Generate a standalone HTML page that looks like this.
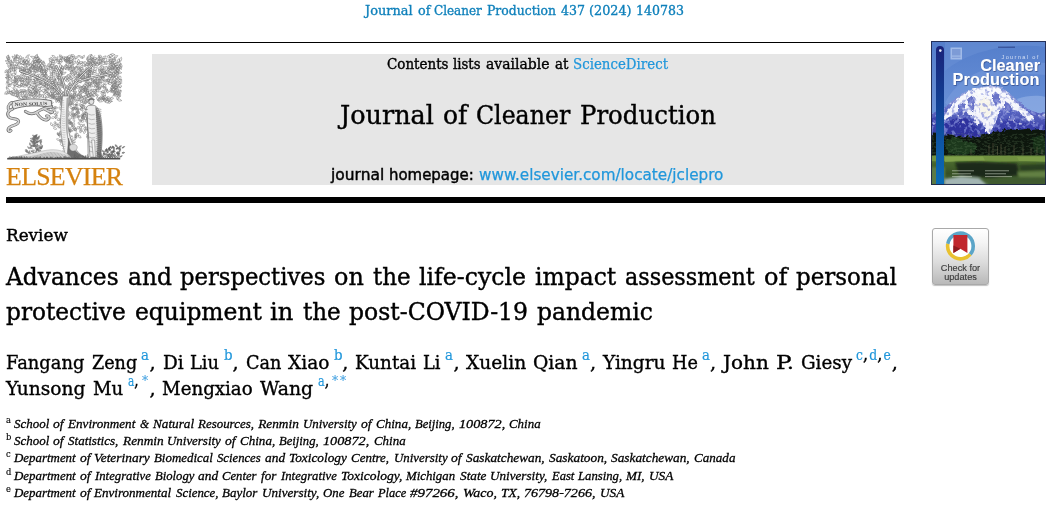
<!DOCTYPE html>
<html lang="en"><head><meta charset="utf-8"><title>Journal of Cleaner Production</title>
<style>
html,body{margin:0;padding:0;background:#fff;}
body{width:1059px;height:507px;position:relative;overflow:hidden;}
.t,.g{position:absolute;white-space:pre;margin:0;padding:0;transform-origin:0 50%;}
.r{position:absolute;}
</style></head>
<body>
<div class="r" style="left:6px;top:42px;width:898px;height:1px;background:#000"></div>
<div class="r" style="left:152px;top:54px;width:752px;height:131px;background:#e6e6e6"></div>
<div class="r" style="left:6px;top:197px;width:1039px;height:6px;background:#000"></div>
<!-- Check for updates badge -->
<div class="r" style="left:932px;top:228px;width:57px;height:57px;box-sizing:border-box;border:1px solid #a9a9a9;border-radius:3px;background:linear-gradient(#ffffff 0%,#f4f4f4 25%,#dcdcdc 60%,#b9b9b9 100%);box-shadow:0 1px 1px rgba(0,0,0,.25);"></div>
<svg class="r" style="left:932px;top:228px" width="57" height="57" viewBox="0 0 57 57">
  <circle cx="28.4" cy="18.1" r="12" fill="#fff"/>
  <g fill="none" stroke-width="3.6" transform="translate(28.4 18.1)">
    <path d="M-12.6 -2.2 A12.8 12.8 0 1 1 9.8 8.2" stroke="#5ba5c8"/>
    <path d="M9.8 8.2 A12.8 12.8 0 0 1 -12.6 -2.2" stroke="#e9c12f"/>
  </g>
  <path d="M21.4 6.9 h14 v18 l-7 -4.2 l-7 4.2 z" fill="#c1272d"/>
  <path d="M21.4 17.5 l7 3.2 l-7 4.2 z" fill="#8e1b1f"/>
</svg>
<div class="g" style="left:932px;top:264.3px;width:57px;text-align:center;font:9.2px/8.3px 'Liberation Sans','DejaVu Sans',sans-serif;color:#3c3c3c;white-space:normal;-webkit-text-stroke:0.15px #3c3c3c;">Check for<br>updates</div>
<!-- Journal cover thumbnail -->
<svg class="r" style="left:931px;top:41px" width="115" height="144" viewBox="0 0 115 144">
  <defs>
    <linearGradient id="sky" x1="0" y1="0" x2="0" y2="1">
      <stop offset="0" stop-color="#547ecb"/><stop offset="0.5" stop-color="#6a91d7"/><stop offset="1" stop-color="#8eaee5"/>
    </linearGradient>
    <linearGradient id="strip" x1="0" y1="0" x2="0" y2="1">
      <stop offset="0" stop-color="#1a237a"/><stop offset="0.4" stop-color="#123f93"/><stop offset="1" stop-color="#0a6db6"/>
    </linearGradient>
    <linearGradient id="mtn" x1="0" y1="0" x2="0" y2="1">
      <stop offset="0" stop-color="#a9b6e4"/><stop offset="0.45" stop-color="#5b66c2"/><stop offset="1" stop-color="#2a2f9a"/>
    </linearGradient>
    <linearGradient id="water" x1="0" y1="0" x2="0" y2="1">
      <stop offset="0" stop-color="#688b3c"/><stop offset="0.25" stop-color="#48662d"/><stop offset="0.6" stop-color="#375025"/><stop offset="1" stop-color="#4a663a"/>
    </linearGradient>
    <filter id="rough" x="-5%" y="-5%" width="110%" height="110%">
      <feTurbulence type="fractalNoise" baseFrequency="0.22" numOctaves="3" seed="7" result="n"/>
      <feDisplacementMap in="SourceGraphic" in2="n" scale="5" xChannelSelector="R" yChannelSelector="G"/>
    </filter>
    <filter id="rough2" x="-5%" y="-5%" width="110%" height="110%">
      <feTurbulence type="fractalNoise" baseFrequency="0.3" numOctaves="2" seed="21" result="n"/>
      <feDisplacementMap in="SourceGraphic" in2="n" scale="4" xChannelSelector="R" yChannelSelector="G"/>
    </filter>
    <filter id="speckW" x="0" y="0" width="100%" height="100%">
      <feTurbulence type="fractalNoise" baseFrequency="0.26" numOctaves="2" seed="3"/>
      <feColorMatrix type="matrix" values="0 0 0 0 1  0 0 0 0 1  0 0 0 0 1  6 0 0 0 -3.5"/>
      <feComposite in2="SourceGraphic" operator="in"/>
    </filter>
    <filter id="speckB" x="0" y="0" width="100%" height="100%">
      <feTurbulence type="fractalNoise" baseFrequency="0.24" numOctaves="2" seed="12"/>
      <feColorMatrix type="matrix" values="0 0 0 0 0.24  0 0 0 0 0.28  0 0 0 0 0.70  0 6 0 0 -3.1"/>
      <feComposite in2="SourceGraphic" operator="in"/>
    </filter>
    <filter id="speckG" x="0" y="0" width="100%" height="100%">
      <feTurbulence type="fractalNoise" baseFrequency="0.3 0.6" numOctaves="2" seed="5"/>
      <feColorMatrix type="matrix" values="0 0 0 0 0.16  0 0 0 0 0.30  0 0 0 0 0.14  0 0 7 0 -3.4"/>
      <feComposite in2="SourceGraphic" operator="in"/>
    </filter>
    <filter id="tsh" x="-10%" y="-20%" width="120%" height="150%"><feDropShadow dx="0.6" dy="0.8" stdDeviation="0.7" flood-color="#16285f" flood-opacity="0.6"/></filter>
    <filter id="blur0"><feGaussianBlur stdDeviation="0.35"/></filter>
    <filter id="blur1"><feGaussianBlur stdDeviation="0.7"/></filter>
    <filter id="blur2"><feGaussianBlur stdDeviation="1.6"/></filter>
    <filter id="blur3" x="-10%" y="-10%" width="120%" height="120%"><feGaussianBlur stdDeviation="1.3"/></filter>
    <clipPath id="cv"><rect x="0" y="0" width="115" height="144"/></clipPath>
    <clipPath id="mclip"><path d="M-4 76 L4 71 L13 67 L19 62 L24 58 L30 54 L34 51 L40 49 L45 47 L50 46 L56 45 L62 44.5 L68 45.5 L72 48 L77 51 L82 56 L88 61 L94 66 L101 70 L108 72 L119 73 L119 100 L-4 100 Z"/></clipPath>
  </defs>
  <g clip-path="url(#cv)">
    <rect width="115" height="144" fill="url(#sky)"/>
    <!-- decorative lighter swooshes in sky -->
    <path d="M14 30 C40 8 80 2 115 6 L115 0 L14 0 Z" fill="#6a90d6" opacity="0.55"/>
    <path d="M14 62 C30 30 70 18 115 22 L115 34 C75 30 40 42 24 70 Z" fill="#86a6e2" opacity="0.35"/>
    <path d="M86 58 C96 54 108 54 115 56 L115 74 L95 74 Z" fill="#a8c0ee" opacity="0.45"/>
    <!-- mountain -->
    <g filter="url(#rough2)">
      <path d="M-4 76 L4 71 L13 67 L19 62 L24 58 L30 54 L34 51 L40 49 L45 47 L50 46 L56 45 L62 44.5 L68 45.5 L72 48 L77 51 L82 56 L88 61 L94 66 L101 70 L108 72 L119 73 L119 100 L-4 100 Z" fill="url(#mtn)"/>
      <path d="M24 60 L30 55 L36 51 L44 48 L52 46.5 L60 45.5 L68 47 L74 51 L80 57 L86 62 L92 67 L98 72 L104 78 L98 80 L92 74 L86 70 L80 68 L76 72 L72 66 L68 70 L66 78 L62 86 L58 94 L54 88 L50 80 L46 84 L42 76 L36 72 L30 70 L24 72 L18 76 L12 80 L14 72 L20 66 Z" fill="#ffffff" opacity="0.93"/>
      <path d="M46 62 L54 56 L60 60 L62 70 L58 78 L52 74 L48 68 Z" fill="#f6f3ea" opacity="0.95"/>
      <path d="M36 58 L42 54 L44 62 L42 72 L38 66 Z M62 50 L68 54 L70 62 L66 66 L62 60 Z M74 60 L80 64 L84 72 L78 76 L74 68 Z M28 64 L34 62 L34 70 L28 72 Z" fill="#4d5bbd" opacity="0.85"/>
      <path d="M14 82 L22 78 L32 76 L40 80 L46 88 L52 96 L52 100 L14 100 Z" fill="#2c2f9c" opacity="0.92"/>
      <path d="M64 88 L72 80 L82 78 L92 82 L104 84 L119 86 L119 100 L62 100 Z" fill="#363aa6" opacity="0.8"/>
      <path d="M0 78 L8 74 L12 82 L10 92 L0 94 Z" fill="#3a3fa8" opacity="0.85"/>
    </g>
    <g clip-path="url(#mclip)">
      <rect x="0" y="44" width="115" height="40" fill="#fff" filter="url(#speckW)" opacity="0.7"/>
      <rect x="0" y="44" width="115" height="56" fill="#fff" filter="url(#speckB)" opacity="0.7"/>
    </g>
    <!-- forest -->
    <g filter="url(#rough)">
      <path d="M-4 94 L4 92.5 L12 95 L20 93.5 L28 96 L36 95 L44 97 L50 94.5 L56 93 L62 91 L70 90 L78 88.5 L86 89 L94 88 L102 89 L110 88 L119 89 L119 118 L-4 118 Z" fill="#0b170c"/>
      <path d="M14 99 L22 96 L30 99 L40 101 L46 105 L44 112 L30 114 L16 112 Z" fill="#1d3b1f" opacity="0.9"/>
      <path d="M100 98 L110 94 L118 98 L118 112 L104 112 Z" fill="#18331a" opacity="0.8"/>
    </g>
    <rect x="0" y="92" width="115" height="24" fill="#fff" filter="url(#speckG)" opacity="0.2"/>
    <g stroke="#7a7458" stroke-width="0.6" opacity="0.75">
      <path d="M58 104v10M62 102v12M66.5 105v9M70 103v11M74 106v8M83 104v10M40 108v6M92 106v8M100 107v7M106 106v8M111 108v6"/>
    </g>
    <!-- meadow and water -->
    <rect x="0" y="115" width="115" height="29" fill="url(#water)"/>
    <path d="M0 114.5 L115 114.5 L115 121 C90 119 70 122 50 120 C30 119 15 121 0 120 Z" fill="#6f9140" filter="url(#blur1)"/>
    <path d="M14 116 L52 115.5 L54 119.5 L14 121 Z" fill="#88a850" opacity="0.7"/>
    <path d="M86 116 L115 116 L115 120 L88 120 Z" fill="#7f9f48" opacity="0.7"/>
    <g filter="url(#blur3)">
      <path d="M24 121.5 L50 121 L86 122.5 L88 134 L60 137 L28 134 Z" fill="#172414" opacity="0.9"/>
      <path d="M88 124 L115 123 L115 129 L90 130 Z" fill="#263a1c" opacity="0.85"/>
      <path d="M86 131 L115 130 L115 136 L88 136 Z" fill="#6d8c4a" opacity="0.8"/>
      <path d="M14 138 L30 135.5 L48 137 L56 144 L14 144 Z" fill="#c3d2de" opacity="0.75"/>
      <path d="M58 138 L115 136 L115 144 L58 144 Z" fill="#3f5b30" opacity="0.85"/>
      <path d="M0 126 L14 126 L14 144 L0 144 Z" fill="#5b7a44"/>
    </g>
    <g fill="#e8efe0" opacity="0.45" filter="url(#blur0)">
      <rect x="21" y="129.2" width="22" height="1.1"/><rect x="21" y="132.2" width="19" height="1.1"/><rect x="21" y="135" width="20" height="1.1"/>
      <rect x="54" y="129.2" width="24" height="1.1"/><rect x="54" y="132.2" width="21" height="1.1"/><rect x="54" y="135" width="27" height="1.1"/>
    </g>
    <!-- left strip -->
    <path d="M5 9 A4 4 0 0 1 13 9 L13 144 L5 144 Z" fill="url(#strip)"/>
    <circle cx="9.3" cy="9.6" r="1.3" fill="#e9eefb"/>
    <!-- mini publisher mark -->
    <rect x="19.5" y="6.5" width="11.5" height="12" fill="#a9c0ea" opacity="0.9"/>
    <rect x="21" y="8" width="8.5" height="6.5" fill="#7d9bd6"/>
    <rect x="21" y="15.6" width="8.5" height="1.4" fill="#86a2da"/>
    <rect x="67" y="5.6" width="17" height="1.2" fill="#2b3f86" opacity="0.8"/>
    <!-- cover title -->
    <g font-family="'Liberation Sans','DejaVu Sans',sans-serif" text-anchor="end">
      <text x="108.6" y="17.6" font-size="5.6" letter-spacing="1.35" fill="#dfe7f8" opacity="0.9">Journal of</text>
      <g font-weight="bold" font-size="16.3" fill="#ffffff" filter="url(#tsh)">
        <text x="109" y="30.2">Cleaner</text><text x="108.6" y="44.2" letter-spacing="0.12">Production</text>
      </g>
    </g>
  </g>
  <rect x="0.5" y="0.5" width="114" height="143" fill="none" stroke="#1b2246" stroke-width="1" opacity="0.85"/>
</svg>
<!-- Elsevier tree mark -->
<svg class="r" style="left:0px;top:50px" width="130" height="115" viewBox="0 0 130 115">
<path d="M8.5 12.3Q10.6 11.1 9.3 8.7Q7.0 10.2 8.5 12.3M7.5 10.2Q10.0 8.6 8.6 5.5Q6.0 7.6 7.5 10.2M14.7 8.8Q14.8 6.3 12.0 6.1Q12.2 8.9 14.7 8.8M14.7 8.8Q17.3 8.1 17.4 5.1Q14.5 6.2 14.7 8.8M21.4 9.0Q18.7 8.7 18.3 11.7Q21.3 11.8 21.4 9.0M21.4 9.0Q23.0 6.5 20.0 5.5Q18.6 8.4 21.4 9.0M19.1 8.3Q16.2 7.3 16.2 10.6Q19.3 11.4 19.1 8.3M19.1 8.3Q20.0 5.2 16.5 4.5Q15.8 8.0 19.1 8.3M16.7 7.7Q13.9 7.4 13.3 10.5Q16.4 10.5 16.7 7.7M16.7 7.7Q17.1 5.2 14.4 4.7Q14.2 7.5 16.7 7.7M29.5 4.7Q26.6 4.6 25.6 7.6Q28.8 7.5 29.5 4.7M37.1 12.5Q36.5 9.6 33.3 10.2Q34.3 13.3 37.1 12.5M37.1 12.5Q39.9 11.9 38.5 9.1Q35.5 10.0 37.1 12.5M36.2 10.3Q35.3 7.8 32.8 8.9Q33.9 11.5 36.2 10.3M35.2 8.0Q33.7 5.4 30.4 6.4Q32.4 9.2 35.2 8.0M35.2 8.0Q38.3 7.6 37.5 4.3Q34.2 5.1 35.2 8.0M41.6 10.8Q39.4 8.1 36.4 10.6Q39.2 13.2 41.6 10.8M40.1 8.9Q38.3 6.3 35.4 8.2Q37.7 10.9 40.1 8.9M38.6 7.0Q36.8 4.6 34.3 6.8Q36.5 9.1 38.6 7.0M55.9 10.1Q58.4 9.5 58.0 6.6Q55.3 7.6 55.9 10.1M55.6 7.9Q55.2 5.0 51.9 5.3Q52.7 8.5 55.6 7.9M64.4 11.2Q67.5 9.9 66.2 6.4Q62.8 8.1 64.4 11.2M63.6 9.2Q62.8 6.1 59.2 6.5Q60.5 9.8 63.6 9.2M62.9 7.2Q62.1 4.6 59.2 4.9Q60.3 7.7 62.9 7.2M66.3 12.6Q67.5 10.3 65.0 9.1Q63.9 11.7 66.3 12.6M66.3 12.6Q69.0 13.0 70.4 10.1Q67.2 10.0 66.3 12.6M66.8 10.2Q66.9 7.4 63.8 6.3Q64.0 9.6 66.8 10.2M66.8 10.2Q69.5 10.6 70.7 7.7Q67.6 7.6 66.8 10.2M67.2 7.8Q70.4 8.9 71.2 5.4Q67.7 4.5 67.2 7.8M75.5 9.1Q75.2 6.3 72.1 6.4Q72.7 9.5 75.5 9.1M75.5 9.1Q78.3 8.6 78.7 5.4Q75.6 6.3 75.5 9.1M75.3 7.0Q74.6 3.9 71.1 4.5Q72.2 7.8 75.3 7.0M82.4 8.4Q82.2 5.7 79.2 5.5Q79.7 8.5 82.4 8.4M82.4 8.4Q85.0 8.0 84.4 5.2Q81.6 5.9 82.4 8.4M86.5 9.1Q88.6 10.9 90.8 8.6Q88.2 6.9 86.5 9.1M87.6 7.0Q90.6 7.9 92.0 4.7Q88.6 4.1 87.6 7.0M91.9 10.4Q93.1 8.0 90.6 6.4Q89.5 9.2 91.9 10.4M91.9 10.4Q94.2 12.0 95.9 9.5Q93.3 8.0 91.9 10.4M92.9 8.7Q94.3 5.8 91.1 4.4Q89.8 7.7 92.9 8.7M92.9 8.7Q95.1 10.7 97.3 8.2Q94.6 6.2 92.9 8.7M102.6 11.3Q101.4 8.5 98.1 9.0Q99.7 12.0 102.6 11.3M102.3 9.2Q101.6 6.3 98.5 7.2Q99.6 10.2 102.3 9.2M102.3 9.2Q105.5 9.3 105.7 5.8Q102.2 6.0 102.3 9.2M102.0 7.1Q101.4 4.2 98.3 5.3Q99.3 8.4 102.0 7.1M106.7 6.4Q108.0 8.8 110.7 7.3Q108.9 4.7 106.7 6.4M108.5 5.4Q110.1 8.3 113.1 6.2Q111.0 3.2 108.5 5.4M110.3 4.4Q112.3 6.7 115.1 4.8Q112.6 2.6 110.3 4.4M113.8 8.1Q116.8 8.9 117.8 5.6Q114.4 5.0 113.8 8.1M11.0 15.2Q9.5 12.6 6.2 13.3Q8.2 16.0 11.0 15.2M11.0 15.2Q13.6 13.3 11.4 10.5Q8.8 12.8 11.0 15.2M10.0 13.5Q12.4 12.3 11.2 9.6Q8.6 11.2 10.0 13.5M9.1 11.9Q7.8 9.7 5.1 10.8Q6.8 13.0 9.1 11.9M8.1 10.2Q10.8 9.7 9.7 7.0Q6.9 7.8 8.1 10.2M7.2 8.6Q10.2 7.7 8.3 4.9Q5.2 6.1 7.2 8.6M21.0 13.0Q18.2 11.6 17.4 14.9Q20.5 16.1 21.0 13.0M18.7 12.7Q15.5 12.4 14.6 15.9Q18.2 15.9 18.7 12.7M16.3 12.4Q16.6 9.8 13.7 9.5Q13.7 12.4 16.3 12.4M14.0 12.1Q11.0 11.5 10.7 14.7Q14.0 15.2 14.0 12.1M26.7 14.1Q24.8 12.4 22.5 14.3Q24.9 16.0 26.7 14.1M26.7 14.1Q29.1 12.2 26.5 10.1Q24.1 12.5 26.7 14.1M25.1 13.0Q22.6 11.4 20.9 14.1Q23.8 15.5 25.1 13.0M25.1 13.0Q26.7 10.5 23.7 9.3Q22.3 12.1 25.1 13.0M23.5 11.8Q21.0 9.8 19.0 12.7Q21.9 14.6 23.5 11.8M23.5 11.8Q25.5 9.6 23.1 7.2Q21.1 9.9 23.5 11.8M34.3 17.0Q32.0 15.0 29.6 17.4Q32.4 19.3 34.3 17.0M34.3 17.0Q36.4 14.7 33.9 12.4Q31.8 15.1 34.3 17.0M32.5 15.3Q31.0 13.3 28.8 14.9Q30.7 16.9 32.5 15.3M32.5 15.3Q34.9 13.1 32.5 10.5Q30.2 13.1 32.5 15.3M30.7 13.6Q28.5 11.6 26.8 14.3Q29.4 16.2 30.7 13.6M29.0 11.8Q26.5 9.7 24.0 12.3Q27.0 14.4 29.0 11.8M29.0 11.8Q31.1 9.5 28.3 7.5Q26.2 10.3 29.0 11.8M27.2 10.1Q24.8 8.6 22.8 11.1Q25.7 12.6 27.2 10.1M40.9 15.0Q38.4 12.7 36.2 15.6Q39.1 17.8 40.9 15.0M40.9 15.0Q42.9 12.7 40.2 11.0Q38.2 13.6 40.9 15.0M39.2 13.2Q37.3 11.0 34.2 12.1Q36.6 14.5 39.2 13.2M39.2 13.2Q41.1 10.9 38.6 8.6Q36.7 11.5 39.2 13.2M37.5 11.5Q35.4 9.5 33.0 11.7Q35.6 13.6 37.5 11.5M37.5 11.5Q39.4 9.4 37.5 6.9Q35.6 9.4 37.5 11.5M44.4 16.2Q42.8 13.7 40.0 15.5Q42.1 18.1 44.4 16.2M44.4 16.2Q46.3 13.8 43.6 11.7Q41.8 14.6 44.4 16.2M43.0 14.9Q45.8 13.5 43.7 10.8Q40.9 12.7 43.0 14.9M41.6 13.6Q43.4 11.8 41.4 9.8Q39.7 12.0 41.6 13.6M40.2 12.3Q38.9 9.8 36.4 11.6Q38.2 14.2 40.2 12.3M49.0 19.4Q50.1 16.5 46.8 15.8Q46.0 19.1 49.0 19.4M49.9 17.1Q51.3 14.3 48.0 13.6Q46.8 16.8 49.9 17.1M49.9 17.1Q53.3 17.8 54.1 14.0Q50.3 13.7 49.9 17.1M50.8 14.9Q52.5 12.6 50.1 10.7Q48.5 13.3 50.8 14.9M50.8 14.9Q53.9 16.1 55.5 12.8Q52.0 11.8 50.8 14.9M51.7 12.6Q52.6 9.4 49.1 8.1Q48.5 11.8 51.7 12.6M51.7 12.6Q54.4 14.0 55.1 10.8Q52.1 9.6 51.7 12.6M52.6 10.4Q53.4 8.0 50.8 7.1Q50.2 9.8 52.6 10.4M52.6 10.4Q54.7 12.0 56.3 9.6Q53.8 8.0 52.6 10.4M58.8 13.9Q60.4 11.1 57.1 9.9Q55.6 13.1 58.8 13.9M58.8 13.9Q61.7 13.9 62.8 10.8Q59.5 11.1 58.8 13.9M59.2 11.9Q59.9 9.1 56.8 9.1Q56.3 12.2 59.2 11.9M59.2 11.9Q62.0 12.0 61.9 9.0Q58.9 9.1 59.2 11.9M59.6 9.8Q62.2 10.2 63.1 7.3Q60.2 7.3 59.6 9.8M66.1 15.7Q69.1 16.0 69.6 12.7Q66.2 12.6 66.1 15.7M66.2 11.7Q66.7 9.0 63.8 8.3Q63.5 11.3 66.2 11.7M66.2 11.7Q68.7 12.3 69.2 9.5Q66.3 9.1 66.2 11.7M70.2 13.7Q70.5 11.0 67.5 10.8Q67.4 13.8 70.2 13.7M70.2 13.7Q73.5 13.2 72.9 9.5Q69.3 10.4 70.2 13.7M69.8 11.4Q70.4 8.1 66.7 7.6Q66.5 11.3 69.8 11.4M69.5 9.1Q70.0 6.5 67.0 6.2Q66.8 9.1 69.5 9.1M69.5 9.1Q72.6 9.4 72.4 6.1Q69.1 6.1 69.5 9.1M77.4 14.8Q79.1 13.2 77.4 11.2Q75.7 13.2 77.4 14.8M77.4 14.8Q80.0 15.9 81.9 13.4Q78.9 12.5 77.4 14.8M78.6 13.1Q80.9 11.3 78.5 9.1Q76.2 11.4 78.6 13.1M78.6 13.1Q81.3 14.4 83.3 11.8Q80.2 10.7 78.6 13.1M84.2 16.8Q85.5 14.0 82.8 11.9Q81.6 15.1 84.2 16.8M85.4 14.9Q87.7 12.9 84.9 11.1Q82.7 13.5 85.4 14.9M85.4 14.9Q88.0 16.5 90.0 13.7Q86.9 12.3 85.4 14.9M86.5 13.1Q89.1 14.3 90.4 11.5Q87.4 10.4 86.5 13.1M87.7 11.2Q89.3 9.2 87.3 6.9Q85.8 9.5 87.7 11.2M87.7 11.2Q90.1 13.2 91.3 10.1Q88.5 8.3 87.7 11.2M87.5 15.6Q89.8 14.6 88.9 11.8Q86.4 13.2 87.5 15.6M89.1 14.3Q90.7 16.6 92.9 14.6Q91.0 12.4 89.1 14.3M90.8 13.1Q93.3 11.3 91.3 8.5Q88.7 10.8 90.8 13.1M90.8 13.1Q92.5 15.5 95.0 13.5Q92.9 11.1 90.8 13.1M92.4 11.9Q95.0 10.2 92.9 7.5Q90.3 9.6 92.4 11.9M92.4 11.9Q94.0 14.1 96.8 12.9Q94.8 10.7 92.4 11.9M95.4 14.8Q97.1 12.7 94.8 10.8Q93.1 13.3 95.4 14.8M95.4 14.8Q97.4 17.1 99.4 14.4Q96.9 12.1 95.4 14.8M97.0 12.9Q98.7 10.7 96.4 8.5Q94.7 11.2 97.0 12.9M97.0 12.9Q98.5 15.4 101.1 13.4Q99.1 10.9 97.0 12.9M98.6 11.0Q101.1 8.9 99.1 5.9Q96.6 8.5 98.6 11.0M99.2 12.6Q102.0 12.9 102.2 9.8Q99.1 9.7 99.2 12.6M99.2 12.6Q99.0 15.6 102.3 15.8Q102.3 12.5 99.2 12.6M101.7 12.2Q104.5 11.3 104.2 8.0Q101.1 9.3 101.7 12.2M101.7 12.2Q102.0 15.3 105.3 14.3Q104.6 11.0 101.7 12.2M104.1 11.9Q107.4 11.6 106.7 8.1Q103.2 8.7 104.1 11.9M104.1 11.9Q104.2 14.5 107.1 14.7Q106.7 11.9 104.1 11.9M106.5 11.5Q107.0 14.6 110.4 14.1Q109.6 10.7 106.5 11.5M111.5 14.2Q112.1 11.1 108.9 9.7Q108.5 13.2 111.5 14.2M111.5 14.2Q113.9 14.2 114.0 11.5Q111.3 11.8 111.5 14.2M111.9 12.1Q111.9 9.3 108.8 9.2Q109.0 12.3 111.9 12.1M111.9 12.1Q115.0 12.5 115.9 9.0Q112.4 9.0 111.9 12.1M112.2 10.1Q112.6 7.4 109.6 6.9Q109.5 9.9 112.2 10.1M112.2 10.1Q114.8 10.5 115.2 7.7Q112.4 7.5 112.2 10.1M113.6 14.3Q116.8 13.7 115.7 10.3Q112.3 11.3 113.6 14.3M113.6 14.3Q115.0 17.2 117.9 15.3Q116.1 12.3 113.6 14.3M117.6 12.5Q120.6 11.7 119.2 8.6Q116.0 9.8 117.6 12.5M117.6 12.5Q118.4 15.4 121.4 14.0Q120.1 11.0 117.6 12.5M119.5 11.7Q122.5 10.5 121.4 7.2Q118.3 8.8 119.5 11.7M7.2 19.6Q4.4 19.9 4.9 22.9Q7.9 22.3 7.2 19.6M16.8 17.7Q13.6 17.5 14.0 21.0Q17.5 20.9 16.8 17.7M16.8 17.7Q16.7 14.5 13.2 14.5Q13.6 18.1 16.8 17.7M14.8 18.0Q11.8 18.5 12.9 21.6Q16.2 20.7 14.8 18.0M14.8 18.0Q14.4 14.8 10.8 15.1Q11.7 18.5 14.8 18.0M12.9 18.2Q9.8 18.6 10.5 21.9Q13.7 21.1 12.9 18.2M12.9 18.2Q13.2 15.5 10.2 15.4Q10.1 18.5 12.9 18.2M10.9 18.4Q7.7 19.0 8.4 22.5Q11.8 21.6 10.9 18.4M10.9 18.4Q10.5 15.8 7.5 15.7Q8.2 18.6 10.9 18.4M25.8 20.4Q23.1 19.7 21.7 22.5Q24.9 23.0 25.8 20.4M25.8 20.4Q26.0 17.3 22.6 17.1Q22.8 20.4 25.8 20.4M23.6 19.8Q20.9 19.1 19.9 22.0Q23.0 22.5 23.6 19.8M23.6 19.8Q24.4 16.8 21.0 16.1Q20.5 19.5 23.6 19.8M21.4 19.3Q21.6 16.9 19.0 16.5Q19.0 19.1 21.4 19.3M19.2 18.7Q19.6 16.1 16.8 15.0Q16.6 18.0 19.2 18.7M29.0 23.7Q27.5 21.2 24.3 22.1Q26.3 24.8 29.0 23.7M29.0 23.7Q32.2 23.1 30.9 19.8Q27.6 20.8 29.0 23.7M28.3 21.5Q28.2 18.3 24.8 18.9Q25.2 22.3 28.3 21.5M28.3 21.5Q30.6 20.8 29.9 18.2Q27.5 19.3 28.3 21.5M27.7 19.4Q26.7 16.5 23.7 17.9Q25.1 21.0 27.7 19.4M27.1 17.2Q26.4 14.2 23.0 14.0Q24.0 17.3 27.1 17.2M27.1 17.2Q30.1 16.0 28.7 12.8Q25.5 14.4 27.1 17.2M38.9 20.6Q36.1 19.9 34.7 22.9Q37.9 23.2 38.9 20.6M38.9 20.6Q40.1 18.3 37.8 16.5Q36.7 19.2 38.9 20.6M37.0 19.8Q34.7 18.6 33.4 21.2Q36.1 22.3 37.0 19.8M37.0 19.8Q37.4 17.2 34.6 16.3Q34.4 19.2 37.0 19.8M35.1 19.1Q32.0 17.9 30.4 21.3Q34.0 22.3 35.1 19.1M35.1 19.1Q36.5 17.0 34.2 15.5Q32.9 17.9 35.1 19.1M33.2 18.4Q30.7 16.5 28.7 19.4Q31.7 21.2 33.2 18.4M33.2 18.4Q35.0 15.8 31.9 14.3Q30.2 17.3 33.2 18.4M31.3 17.7Q28.8 16.5 27.7 19.3Q30.5 20.3 31.3 17.7M43.2 20.5Q41.2 18.9 39.6 21.3Q42.0 22.8 43.2 20.5M43.2 20.5Q44.0 17.8 41.4 16.0Q40.8 19.1 43.2 20.5M41.2 19.4Q38.1 18.1 36.6 21.6Q40.2 22.7 41.2 19.4M41.2 19.4Q42.6 17.1 40.4 14.8Q39.1 17.6 41.2 19.4M39.1 18.4Q36.6 17.5 35.6 20.2Q38.5 21.0 39.1 18.4M39.1 18.4Q41.1 15.7 37.9 14.1Q36.1 17.2 39.1 18.4M37.1 17.4Q34.1 16.4 32.7 19.7Q36.2 20.4 37.1 17.4M37.1 17.4Q38.1 14.9 35.5 13.4Q34.7 16.3 37.1 17.4M35.0 16.4Q32.1 14.6 30.1 17.8Q33.5 19.4 35.0 16.4M35.0 16.4Q36.3 13.5 33.0 12.8Q32.0 15.9 35.0 16.4M45.6 23.1Q48.2 22.3 48.0 19.3Q45.2 20.4 45.6 23.1M45.1 20.9Q44.1 18.4 41.2 19.3Q42.6 21.9 45.1 20.9M45.1 20.9Q47.6 20.8 47.7 18.1Q45.0 18.4 45.1 20.9M44.6 18.7Q46.9 17.8 45.9 15.3Q43.5 16.5 44.6 18.7M54.1 21.0Q54.6 18.2 51.5 17.2Q51.3 20.4 54.1 21.0M54.1 21.0Q56.7 20.4 56.4 17.4Q53.6 18.4 54.1 21.0M54.1 19.1Q57.0 19.0 57.7 15.7Q54.5 16.2 54.1 19.1M58.5 21.7Q59.8 19.2 57.2 17.4Q56.0 20.3 58.5 21.7M58.5 21.7Q60.0 24.1 62.1 21.9Q60.2 19.5 58.5 21.7M59.6 20.1Q62.1 18.4 59.6 16.3Q57.1 18.4 59.6 20.1M59.6 20.1Q62.0 21.2 63.6 18.7Q60.8 17.7 59.6 20.1M60.8 18.5Q63.1 16.1 60.3 13.8Q58.1 16.6 60.8 18.5M60.8 18.5Q63.2 19.9 64.3 17.1Q61.6 15.8 60.8 18.5M65.3 19.5Q67.1 17.3 64.5 15.5Q62.8 18.1 65.3 19.5M65.3 19.5Q68.3 21.0 70.2 17.7Q66.7 16.4 65.3 19.5M66.4 17.9Q67.8 15.9 65.7 14.3Q64.3 16.6 66.4 17.9M66.4 17.9Q68.2 19.8 70.5 17.9Q68.2 15.9 66.4 17.9M67.4 16.3Q69.7 18.0 72.3 15.9Q69.5 14.2 67.4 16.3M75.5 21.7Q74.1 19.0 70.9 20.2Q72.7 23.0 75.5 21.7M74.7 19.3Q73.9 16.7 70.8 16.7Q71.9 19.6 74.7 19.3M74.7 19.3Q77.1 18.9 76.5 16.2Q73.9 17.0 74.7 19.3M73.9 17.0Q72.6 14.6 69.9 15.9Q71.6 18.3 73.9 17.0M73.1 14.6Q72.3 12.1 69.4 12.8Q70.5 15.6 73.1 14.6M73.1 14.6Q76.0 14.2 75.7 10.9Q72.5 11.8 73.1 14.6M72.3 12.3Q71.7 9.3 68.7 10.7Q69.6 13.9 72.3 12.3M72.3 12.3Q74.7 11.1 73.3 8.5Q70.8 10.0 72.3 12.3M80.7 22.1Q80.2 19.0 76.7 19.6Q77.7 23.0 80.7 22.1M80.7 22.1Q83.8 22.2 83.9 18.8Q80.4 19.0 80.7 22.1M80.3 20.2Q80.4 17.3 77.2 17.3Q77.4 20.5 80.3 20.2M80.3 20.2Q83.2 20.1 83.0 17.0Q79.9 17.4 80.3 20.2M80.0 18.3Q79.3 15.5 76.3 16.5Q77.4 19.4 80.0 18.3M80.0 18.3Q82.6 18.0 82.5 15.0Q79.5 15.6 80.0 18.3M88.8 22.8Q91.5 23.6 92.0 20.5Q89.0 20.0 88.8 22.8M88.8 20.6Q88.9 17.6 85.6 18.1Q85.8 21.3 88.8 20.6M88.8 20.6Q91.4 20.7 91.8 17.8Q88.9 18.0 88.8 20.6M88.7 18.4Q88.7 15.0 84.9 15.0Q85.4 18.6 88.7 18.4M88.7 16.1Q91.7 15.3 91.5 11.7Q88.2 13.1 88.7 16.1M92.3 24.5Q93.4 21.7 90.3 20.3Q89.4 23.5 92.3 24.5M92.3 24.5Q95.0 26.0 96.8 23.0Q93.5 21.6 92.3 24.5M92.9 22.3Q94.3 19.5 91.3 18.0Q90.1 21.1 92.9 22.3M92.9 22.3Q95.4 23.5 96.6 20.7Q93.7 19.6 92.9 22.3M93.6 20.0Q96.6 21.2 97.4 17.7Q94.0 16.8 93.6 20.0M94.2 17.8Q94.4 14.9 91.4 13.5Q91.5 16.9 94.2 17.8M94.9 15.6Q96.4 13.0 93.4 11.5Q92.1 14.5 94.9 15.6M94.9 15.6Q97.7 17.3 99.5 14.1Q96.2 12.6 94.9 15.6M98.6 19.7Q101.7 19.4 101.2 16.1Q97.9 16.7 98.6 19.7M98.6 19.7Q98.0 23.0 101.6 23.4Q102.0 19.7 98.6 19.7M100.7 19.6Q103.8 19.6 103.9 16.2Q100.5 16.6 100.7 19.6M100.7 19.6Q100.1 22.4 103.2 22.9Q103.6 19.8 100.7 19.6M102.8 19.5Q105.8 19.5 106.8 16.3Q103.4 16.5 102.8 19.5M102.8 19.5Q102.2 22.4 105.4 22.5Q105.7 19.4 102.8 19.5M108.4 20.9Q110.6 18.8 107.9 16.9Q105.8 19.4 108.4 20.9M108.4 20.9Q110.8 22.9 112.2 19.9Q109.4 18.0 108.4 20.9M109.6 19.3Q111.0 16.9 108.2 15.8Q106.9 18.5 109.6 19.3M109.6 19.3Q111.9 20.7 114.1 18.5Q111.3 17.2 109.6 19.3M110.7 17.6Q112.1 15.4 109.5 14.1Q108.3 16.7 110.7 17.6M110.7 17.6Q112.5 19.6 114.7 17.7Q112.5 15.7 110.7 17.6M111.9 16.0Q113.7 13.6 111.3 11.4Q109.6 14.2 111.9 16.0M111.9 16.0Q114.0 18.0 116.4 15.8Q113.8 13.9 111.9 16.0M111.0 18.9Q113.7 17.3 111.2 15.0Q108.5 17.0 111.0 18.9M111.0 18.9Q112.4 21.1 114.7 19.3Q112.9 17.0 111.0 18.9M113.1 17.6Q116.0 16.4 114.1 13.6Q111.1 15.1 113.1 17.6M113.1 17.6Q115.0 19.7 117.9 18.2Q115.5 15.9 113.1 17.6M115.2 16.3Q118.3 15.7 116.8 12.6Q113.5 13.6 115.2 16.3M115.2 16.3Q116.7 19.0 119.7 17.3Q117.7 14.5 115.2 16.3M121.5 19.5Q122.2 16.4 118.9 15.0Q118.5 18.5 121.5 19.5M122.0 17.3Q122.9 14.7 120.1 13.3Q119.4 16.3 122.0 17.3M9.2 26.3Q8.6 23.7 5.8 24.8Q6.8 27.6 9.2 26.3M9.2 26.3Q12.2 24.8 10.5 21.5Q7.4 23.5 9.2 26.3M7.3 22.8Q9.8 21.7 9.5 18.5Q6.7 20.1 7.3 22.8M19.0 28.0Q17.0 25.3 14.1 27.5Q16.5 30.2 19.0 28.0M15.7 24.5Q13.9 21.9 11.3 24.2Q13.6 26.9 15.7 24.5M15.7 24.5Q17.4 21.9 14.9 19.4Q13.4 22.5 15.7 24.5M26.0 24.1Q23.4 22.6 22.3 25.7Q25.3 27.0 26.0 24.1M26.0 24.1Q26.8 20.8 23.1 20.0Q22.7 23.7 26.0 24.1M24.0 23.4Q21.5 22.1 20.4 25.0Q23.4 26.2 24.0 23.4M24.0 23.4Q25.0 20.6 21.9 19.9Q21.1 23.0 24.0 23.4M22.0 22.7Q23.2 19.6 19.7 18.4Q18.8 22.0 22.0 22.7M31.6 27.4Q29.9 24.8 27.2 26.8Q29.3 29.4 31.6 27.4M30.6 25.7Q33.0 23.8 30.8 21.3Q28.4 23.6 30.6 25.7M29.5 24.0Q27.5 21.7 24.4 23.2Q26.9 25.6 29.5 24.0M29.5 24.0Q31.5 22.3 29.9 19.8Q27.9 22.0 29.5 24.0M39.9 28.1Q37.9 25.7 35.8 28.4Q38.3 30.8 39.9 28.1M39.9 28.1Q41.8 25.7 39.0 23.7Q37.3 26.6 39.9 28.1M38.2 27.0Q36.5 24.7 34.4 26.9Q36.5 29.2 38.2 27.0M36.5 25.8Q34.2 24.0 32.3 26.5Q35.0 28.2 36.5 25.8M34.8 24.6Q32.2 22.8 30.0 25.5Q33.0 27.2 34.8 24.6M34.8 24.6Q36.3 22.6 34.1 20.9Q32.7 23.2 34.8 24.6M43.4 27.0Q43.9 24.4 41.0 24.1Q40.7 27.1 43.4 27.0M43.4 27.0Q46.0 27.0 46.6 24.1Q43.7 24.4 43.4 27.0M43.2 25.0Q43.3 22.3 40.2 21.7Q40.4 24.7 43.2 25.0M43.2 25.0Q46.4 25.1 46.2 21.6Q42.6 21.8 43.2 25.0M42.9 23.0Q42.7 20.5 40.0 20.6Q40.4 23.3 42.9 23.0M42.9 23.0Q46.1 22.6 45.5 19.1Q42.0 19.9 42.9 23.0M42.7 20.9Q42.8 17.8 39.3 17.3Q39.5 20.8 42.7 20.9M42.4 18.9Q42.1 16.1 38.9 16.4Q39.6 19.5 42.4 18.9M52.7 27.8Q52.8 25.0 49.8 25.5Q49.9 28.6 52.7 27.8M52.5 25.4Q52.7 22.9 49.9 22.8Q50.0 25.6 52.5 25.4M52.5 25.4Q55.4 25.2 54.5 22.2Q51.4 22.8 52.5 25.4M52.4 23.1Q53.2 19.8 49.5 19.0Q49.1 22.8 52.4 23.1M52.4 23.1Q55.3 23.6 55.7 20.4Q52.5 20.2 52.4 23.1M52.2 18.4Q52.1 15.4 48.7 14.8Q49.2 18.2 52.2 18.4M52.2 18.4Q54.9 18.7 54.8 15.8Q51.9 15.8 52.2 18.4M57.8 28.7Q59.2 25.9 56.2 24.5Q54.9 27.6 57.8 28.7M57.8 28.7Q60.8 29.7 61.6 26.4Q58.3 25.6 57.8 28.7M58.3 26.5Q59.1 23.4 55.7 22.9Q55.1 26.3 58.3 26.5M58.3 26.5Q61.6 26.8 61.9 23.1Q58.2 23.2 58.3 26.5M58.8 24.4Q59.2 21.2 55.7 21.0Q55.5 24.5 58.8 24.4M58.8 24.4Q61.5 25.3 61.8 22.1Q58.7 21.4 58.8 24.4M61.5 26.7Q63.3 23.8 60.1 21.9Q58.5 25.2 61.5 26.7M62.1 24.5Q63.8 21.8 60.7 20.5Q59.1 23.5 62.1 24.5M62.1 24.5Q64.9 25.1 66.2 22.1Q63.0 21.7 62.1 24.5M62.7 22.3Q63.6 19.3 60.3 18.5Q59.7 21.8 62.7 22.3M63.3 20.1Q65.0 17.1 61.8 15.2Q60.2 18.6 63.3 20.1M74.4 25.2Q73.4 22.6 70.4 23.4Q71.8 26.1 74.4 25.2M74.4 25.2Q77.4 23.9 76.1 20.5Q73.0 22.3 74.4 25.2M73.6 23.0Q73.3 20.3 70.3 20.7Q70.9 23.6 73.6 23.0M72.7 20.8Q71.1 18.1 68.1 19.9Q70.1 22.7 72.7 20.8M72.7 20.8Q75.7 20.3 75.5 16.9Q72.2 17.8 72.7 20.8M71.8 18.6Q70.3 16.0 67.4 17.7Q69.3 20.4 71.8 18.6M81.0 28.6Q80.8 25.4 77.4 26.4Q78.0 29.8 81.0 28.6M80.4 26.6Q80.5 24.0 77.6 24.2Q77.8 27.0 80.4 26.6M80.4 26.6Q83.4 26.5 83.3 23.1Q80.0 23.6 80.4 26.6M79.9 24.6Q79.0 21.5 75.5 22.2Q76.8 25.5 79.9 24.6M79.9 24.6Q82.7 23.3 81.9 19.8Q78.9 21.6 79.9 24.6M86.7 30.7Q86.4 28.0 83.3 27.9Q83.9 31.0 86.7 30.7M86.7 30.7Q89.7 30.5 90.0 27.1Q86.7 27.7 86.7 30.7M86.8 28.6Q86.9 26.0 84.1 26.1Q84.2 28.9 86.8 28.6M86.8 28.6Q89.8 29.2 90.6 25.9Q87.2 25.5 86.8 28.6M86.9 26.5Q89.7 26.8 89.3 23.7Q86.2 23.7 86.9 26.5M86.9 24.4Q87.5 21.8 84.8 20.5Q84.4 23.5 86.9 24.4M86.9 24.4Q90.0 23.8 90.1 20.3Q86.7 21.3 86.9 24.4M87.0 22.2Q88.1 19.5 85.0 19.1Q84.1 22.2 87.0 22.2M90.1 27.6Q91.3 24.9 88.2 23.7Q87.2 26.8 90.1 27.6M90.5 25.3Q91.5 22.4 88.4 20.9Q87.5 24.3 90.5 25.3M90.9 23.0Q91.3 19.8 87.8 18.9Q87.7 22.5 90.9 23.0M97.2 27.8Q100.1 26.2 98.2 23.2Q95.1 25.1 97.2 27.8M98.8 26.2Q100.9 28.2 103.9 26.6Q101.2 24.5 98.8 26.2M100.4 24.6Q102.4 22.5 100.1 20.3Q98.2 22.8 100.4 24.6M100.4 24.6Q102.3 27.1 105.2 25.1Q102.8 22.5 100.4 24.6M102.0 22.9Q104.2 21.1 102.1 18.7Q100.0 21.0 102.0 22.9M102.0 22.9Q104.4 25.3 107.2 22.8Q104.3 20.5 102.0 22.9M102.3 29.7Q104.6 27.9 102.9 25.1Q100.6 27.4 102.3 29.7M103.9 27.8Q106.1 25.7 104.1 23.0Q102.0 25.6 103.9 27.8M105.5 25.9Q107.9 23.7 105.2 21.3Q102.8 24.0 105.5 25.9M105.5 25.9Q107.7 27.7 110.0 25.6Q107.4 23.8 105.5 25.9M107.1 24.1Q108.4 21.5 105.8 19.5Q104.6 22.6 107.1 24.1M107.1 24.1Q109.1 26.3 111.3 23.9Q108.9 21.7 107.1 24.1M108.7 22.2Q110.7 19.8 107.8 18.0Q105.9 20.8 108.7 22.2M111.9 27.2Q114.0 25.2 111.7 23.2Q109.7 25.5 111.9 27.2M111.9 27.2Q114.3 28.3 115.9 25.8Q113.2 24.9 111.9 27.2M113.3 25.2Q115.4 27.4 117.3 24.7Q114.8 22.6 113.3 25.2M114.6 23.2Q116.2 20.6 113.2 19.2Q111.8 22.2 114.6 23.2M114.6 23.2Q117.0 25.0 119.4 22.7Q116.6 21.0 114.6 23.2M116.0 21.2Q117.4 18.7 115.3 16.1Q114.0 19.1 116.0 21.2M116.0 21.2Q118.5 23.0 120.1 20.0Q117.1 18.3 116.0 21.2M113.9 25.4Q116.1 23.5 113.8 21.4Q111.6 23.7 113.9 25.4M115.4 23.8Q118.0 22.3 115.9 19.7Q113.2 21.7 115.4 23.8M115.4 23.8Q117.7 25.5 119.2 22.8Q116.5 21.2 115.4 23.8M116.9 22.3Q119.4 20.3 117.3 17.4Q114.7 19.9 116.9 22.3M116.9 22.3Q118.9 25.1 121.9 22.8Q119.4 20.0 116.9 22.3M118.3 20.7Q120.0 18.6 117.6 16.9Q116.1 19.3 118.3 20.7M119.8 19.1Q121.5 16.8 119.2 14.4Q117.7 17.2 119.8 19.1M11.5 29.9Q11.3 26.7 7.9 27.3Q8.4 30.8 11.5 29.9M9.1 30.0Q6.1 29.6 6.4 32.9Q9.7 33.0 9.1 30.0M9.1 30.0Q9.4 27.0 6.1 27.3Q6.1 30.6 9.1 30.0M15.2 31.4Q13.2 28.9 10.6 31.3Q13.1 33.7 15.2 31.4M15.2 31.4Q16.7 29.2 14.7 26.9Q13.3 29.6 15.2 31.4M11.6 28.7Q14.2 27.1 11.9 24.8Q9.3 26.8 11.6 28.7M9.8 27.3Q7.6 25.5 5.1 27.6Q7.8 29.4 9.8 27.3M8.0 25.9Q10.1 24.1 7.8 22.2Q5.8 24.3 8.0 25.9M23.1 27.8Q19.9 28.3 20.3 31.9Q23.8 31.0 23.1 27.8M23.1 27.8Q22.0 25.1 18.8 26.0Q20.4 28.8 23.1 27.8M21.2 28.2Q18.4 27.9 18.8 30.9Q21.8 30.9 21.2 28.2M21.2 28.2Q20.5 25.5 17.4 25.4Q18.4 28.3 21.2 28.2M19.2 28.5Q16.0 29.3 17.1 32.8Q20.5 31.6 19.2 28.5M17.2 28.9Q14.6 29.6 15.5 32.4Q18.3 31.4 17.2 28.9M17.2 28.9Q17.1 26.1 14.0 25.9Q14.4 29.0 17.2 28.9M31.1 29.8Q28.3 29.8 27.8 32.8Q30.9 32.5 31.1 29.8M31.1 29.8Q31.4 27.1 28.4 26.9Q28.4 29.9 31.1 29.8M28.9 29.4Q26.2 27.8 25.0 31.1Q28.2 32.5 28.9 29.4M28.9 29.4Q29.5 26.5 26.1 26.1Q25.9 29.4 28.9 29.4M26.7 29.1Q24.0 28.5 22.9 31.5Q26.0 31.8 26.7 29.1M26.7 29.1Q27.0 26.2 23.8 25.3Q23.8 28.6 26.7 29.1M24.6 28.7Q21.8 27.7 20.7 30.7Q23.8 31.5 24.6 28.7M35.2 33.7Q34.5 30.8 31.4 31.7Q32.4 34.8 35.2 33.7M35.2 33.7Q38.0 33.5 37.9 30.4Q34.8 30.9 35.2 33.7M34.8 31.8Q34.7 28.6 31.2 28.9Q31.7 32.4 34.8 31.8M34.8 31.8Q37.6 30.6 36.5 27.4Q33.5 29.0 34.8 31.8M40.4 34.1Q39.2 31.2 36.0 32.4Q37.6 35.5 40.4 34.1M40.4 34.1Q43.2 33.2 42.2 30.1Q39.2 31.4 40.4 34.1M39.3 32.1Q41.9 30.7 40.5 27.7Q37.8 29.5 39.3 32.1M38.1 30.1Q36.1 28.0 33.1 29.3Q35.6 31.4 38.1 30.1M38.1 30.1Q40.6 28.9 39.0 26.4Q36.5 27.9 38.1 30.1M37.0 28.0Q39.5 26.4 37.5 23.9Q35.0 25.9 37.0 28.0M50.3 31.5Q47.8 30.3 45.7 32.6Q48.6 33.7 50.3 31.5M50.3 31.5Q52.1 29.5 50.5 26.9Q48.6 29.4 50.3 31.5M48.8 30.1Q47.2 27.6 44.5 29.4Q46.5 32.0 48.8 30.1M48.8 30.1Q51.1 28.2 48.6 26.0Q46.4 28.4 48.8 30.1M47.3 28.8Q45.0 26.5 42.6 29.1Q45.3 31.3 47.3 28.8M47.3 28.8Q49.1 26.3 46.3 24.4Q44.7 27.3 47.3 28.8M45.8 27.4Q43.6 25.3 41.3 27.7Q43.9 29.8 45.8 27.4M45.8 27.4Q48.6 25.3 46.2 22.4Q43.4 25.0 45.8 27.4M44.3 26.0Q46.6 24.2 45.0 21.3Q42.7 23.6 44.3 26.0M55.4 35.4Q57.9 34.6 56.8 31.9Q54.1 33.0 55.4 35.4M54.5 33.5Q53.5 30.9 50.7 32.1Q52.1 34.8 54.5 33.5M54.5 33.5Q57.2 32.0 56.1 28.8Q53.3 30.7 54.5 33.5M53.7 31.6Q52.9 28.7 49.6 29.2Q50.8 32.3 53.7 31.6M53.7 31.6Q56.1 30.8 55.6 28.0Q53.0 29.1 53.7 31.6M52.9 29.7Q55.2 28.5 54.4 25.7Q51.8 27.3 52.9 29.7M60.9 35.3Q60.3 32.5 57.1 31.9Q58.0 35.1 60.9 35.3M61.0 33.3Q61.8 30.2 58.4 29.2Q57.8 32.7 61.0 33.3M61.0 33.3Q63.7 34.3 64.0 31.2Q61.0 30.4 61.0 33.3M61.1 31.3Q60.8 28.2 57.4 28.3Q58.0 31.7 61.1 31.3M61.1 31.3Q64.0 31.1 65.0 28.0Q61.7 28.5 61.1 31.3M61.2 29.3Q60.7 26.1 57.2 26.3Q58.0 29.8 61.2 29.3M61.2 29.3Q64.3 30.2 65.3 26.7Q61.7 26.0 61.2 29.3M65.5 30.8Q67.9 28.8 65.7 26.3Q63.2 28.7 65.5 30.8M65.5 30.8Q67.1 33.1 69.4 31.1Q67.5 28.7 65.5 30.8M67.0 29.4Q68.8 27.5 66.7 25.5Q64.9 27.8 67.0 29.4M67.0 29.4Q69.1 31.2 71.4 29.2Q68.9 27.4 67.0 29.4M68.5 28.1Q70.1 26.0 68.0 24.0Q66.3 26.5 68.5 28.1M68.5 28.1Q70.1 30.9 73.2 29.0Q71.0 26.0 68.5 28.1M69.9 26.7Q71.9 25.0 70.5 22.4Q68.4 24.5 69.9 26.7M69.9 26.7Q71.7 29.5 74.9 27.7Q72.6 24.7 69.9 26.7M75.3 29.6Q77.7 30.8 79.4 28.3Q76.6 27.2 75.3 29.6M76.4 27.5Q78.2 24.8 75.1 22.7Q73.5 26.0 76.4 27.5M76.4 27.5Q78.9 28.7 79.5 25.7Q76.6 24.7 76.4 27.5M81.2 33.0Q80.9 30.4 77.9 29.9Q78.5 32.9 81.2 33.0M81.2 31.0Q84.4 31.2 84.4 27.7Q80.9 27.8 81.2 31.0M81.3 28.9Q82.1 25.7 78.5 25.0Q78.0 28.6 81.3 28.9M81.3 26.9Q81.6 23.9 78.4 23.0Q78.4 26.4 81.3 26.9M81.3 26.9Q83.7 27.5 84.6 24.8Q81.8 24.4 81.3 26.9M81.4 24.8Q84.2 24.4 84.4 21.1Q81.3 22.0 81.4 24.8M82.0 28.6Q85.0 28.1 85.2 24.7Q81.9 25.6 82.0 28.6M82.0 28.6Q82.1 31.8 85.7 32.1Q85.2 28.5 82.0 28.6M84.1 28.2Q84.6 31.0 87.8 31.1Q86.9 28.0 84.1 28.2M86.1 27.8Q89.2 27.1 88.8 23.6Q85.5 24.7 86.1 27.8M86.1 27.8Q86.5 30.9 89.7 29.9Q89.0 26.6 86.1 27.8M88.2 27.4Q91.3 27.5 91.1 24.2Q87.7 24.3 88.2 27.4M88.2 27.4Q89.3 30.2 92.5 29.0Q90.9 26.1 88.2 27.4M91.1 30.2Q94.3 30.3 94.2 26.8Q90.7 27.0 91.1 30.2M91.1 30.2Q91.5 33.2 94.6 32.2Q93.8 29.1 91.1 30.2M93.6 30.0Q93.4 32.8 96.4 33.5Q96.3 30.4 93.6 30.0M96.0 29.9Q98.8 29.8 98.2 26.8Q95.2 27.2 96.0 29.9M96.0 29.9Q95.6 32.7 98.7 33.5Q98.9 30.3 96.0 29.9M98.5 29.7Q101.4 30.0 102.2 26.8Q99.0 26.9 98.5 29.7M98.5 29.7Q98.4 32.8 101.9 33.0Q101.6 29.6 98.5 29.7M98.5 29.5Q101.3 30.0 102.3 27.0Q99.1 26.7 98.5 29.5M98.5 29.5Q98.2 32.4 101.3 33.7Q101.3 30.3 98.5 29.5M100.9 30.0Q103.9 30.7 104.5 27.3Q101.1 27.0 100.9 30.0M103.3 30.6Q105.4 31.8 106.8 29.4Q104.3 28.3 103.3 30.6M103.3 30.6Q101.6 33.1 104.7 34.2Q106.3 31.3 103.3 30.6M105.7 31.1Q108.4 32.6 109.9 29.6Q106.8 28.3 105.7 31.1M108.3 34.1Q109.5 31.5 107.1 29.4Q106.0 32.5 108.3 34.1M108.3 34.1Q110.7 35.9 111.8 32.9Q109.1 31.2 108.3 34.1M109.2 32.1Q110.6 29.6 107.8 28.3Q106.6 31.1 109.2 32.1M109.2 32.1Q112.3 33.3 113.1 29.8Q109.7 28.8 109.2 32.1M110.1 30.0Q111.4 27.9 109.1 26.2Q107.9 28.8 110.1 30.0M111.0 28.0Q112.6 25.4 109.4 24.4Q108.0 27.3 111.0 28.0M111.0 28.0Q113.7 29.5 115.4 26.5Q112.2 25.1 111.0 28.0M111.8 25.9Q113.3 23.5 110.9 21.4Q109.5 24.3 111.8 25.9M111.7 33.2Q114.2 31.8 112.8 28.9Q110.1 30.7 111.7 33.2M111.7 33.2Q114.1 35.1 116.7 32.7Q113.8 30.8 111.7 33.2M113.2 31.8Q115.2 33.4 117.5 31.5Q115.0 30.0 113.2 31.8M114.7 30.5Q117.0 28.1 114.1 26.0Q111.9 28.8 114.7 30.5M114.7 30.5Q116.4 33.4 119.6 31.5Q117.4 28.5 114.7 30.5M116.2 29.1Q118.9 27.6 116.5 25.5Q113.8 27.3 116.2 29.1M116.2 29.1Q118.1 31.1 120.8 29.5Q118.4 27.4 116.2 29.1M117.8 27.8Q120.0 26.5 118.3 24.2Q116.0 25.8 117.8 27.8M119.0 29.7Q122.0 29.1 120.6 26.1Q117.5 27.1 119.0 29.7M11.3 34.4Q8.5 33.6 8.2 36.7Q11.3 37.4 11.3 34.4M9.4 34.3Q6.2 34.4 6.2 37.8Q9.6 37.4 9.4 34.3M9.4 34.3Q9.8 31.8 7.0 31.4Q6.9 34.2 9.4 34.3M21.3 36.7Q19.3 34.6 16.9 36.7Q19.4 38.8 21.3 36.7M21.3 36.7Q23.5 34.9 21.2 32.9Q19.0 35.1 21.3 36.7M19.3 35.4Q17.1 33.0 14.3 35.5Q17.1 37.8 19.3 35.4M17.3 34.2Q15.0 32.8 13.1 35.2Q15.9 36.4 17.3 34.2M17.3 34.2Q19.0 32.2 17.2 29.9Q15.5 32.3 17.3 34.2M15.3 32.9Q13.0 31.4 10.6 33.5Q13.4 35.0 15.3 32.9M15.3 32.9Q17.3 30.6 14.7 28.4Q12.8 31.2 15.3 32.9M27.2 35.4Q24.5 33.6 22.6 36.7Q25.8 38.3 27.2 35.4M27.2 35.4Q28.9 33.1 26.1 32.0Q24.5 34.6 27.2 35.4M25.2 34.7Q22.9 33.4 21.6 36.0Q24.2 37.1 25.2 34.7M25.2 34.7Q25.9 31.9 23.0 30.3Q22.5 33.5 25.2 34.7M23.1 34.0Q20.9 32.8 19.6 35.2Q22.2 36.3 23.1 34.0M23.1 34.0Q24.2 31.1 20.9 31.0Q20.0 34.1 23.1 34.0M35.1 37.4Q32.9 35.8 30.9 38.1Q33.6 39.7 35.1 37.4M35.1 37.4Q36.7 34.5 33.5 32.7Q32.0 36.1 35.1 37.4M32.9 36.2Q30.3 34.5 28.5 37.5Q31.7 39.1 32.9 36.2M30.8 35.0Q27.9 33.5 26.7 36.8Q30.0 38.1 30.8 35.0M30.8 35.0Q32.5 32.6 29.6 31.2Q28.0 34.0 30.8 35.0M28.6 33.8Q26.2 32.8 25.2 35.5Q28.0 36.3 28.6 33.8M28.6 33.8Q29.7 31.0 26.8 29.3Q25.9 32.6 28.6 33.8M40.9 37.6Q38.1 36.1 37.3 39.3Q40.4 40.7 40.9 37.6M37.0 36.9Q34.0 36.2 32.4 39.3Q35.8 39.6 37.0 36.9M37.0 36.9Q37.7 34.2 34.8 32.9Q34.4 36.0 37.0 36.9M48.8 38.8Q46.2 37.2 44.4 40.0Q47.4 41.5 48.8 38.8M48.8 38.8Q50.6 36.3 47.7 34.4Q46.0 37.4 48.8 38.8M46.8 37.7Q49.0 35.6 46.1 34.2Q44.0 36.6 46.8 37.7M44.9 36.6Q42.7 34.8 40.4 37.0Q43.1 38.8 44.9 36.6M44.9 36.6Q46.9 34.3 44.4 32.0Q42.5 34.8 44.9 36.6M42.9 35.5Q43.8 33.1 41.3 31.6Q40.6 34.4 42.9 35.5M41.0 34.4Q38.5 33.2 36.2 35.4Q39.1 36.5 41.0 34.4M41.0 34.4Q42.1 31.9 39.2 30.9Q38.2 33.8 41.0 34.4M52.9 38.7Q50.9 37.2 49.4 39.7Q51.9 41.1 52.9 38.7M52.9 38.7Q54.5 36.4 52.0 34.6Q50.5 37.3 52.9 38.7M51.2 37.6Q48.9 36.3 47.2 38.7Q49.9 39.8 51.2 37.6M51.2 37.6Q52.9 35.1 50.5 32.8Q48.8 35.7 51.2 37.6M49.4 36.4Q50.5 34.0 48.2 32.2Q47.2 35.0 49.4 36.4M47.7 35.3Q45.8 33.5 43.8 35.5Q46.0 37.2 47.7 35.3M47.7 35.3Q49.8 33.2 47.5 30.7Q45.5 33.3 47.7 35.3M45.9 34.1Q43.5 32.0 41.0 34.6Q43.9 36.7 45.9 34.1M45.9 34.1Q46.8 31.9 44.4 30.9Q43.7 33.4 45.9 34.1M57.2 38.9Q55.7 36.7 53.0 38.1Q55.0 40.4 57.2 38.9M57.2 38.9Q59.4 37.0 57.9 34.0Q55.7 36.5 57.2 38.9M56.2 37.0Q55.7 34.0 52.7 35.4Q53.6 38.6 56.2 37.0M56.2 37.0Q59.0 35.8 57.5 32.7Q54.5 34.4 56.2 37.0M55.2 35.1Q54.0 32.8 51.1 33.5Q52.7 36.0 55.2 35.1M54.2 33.2Q53.4 30.2 50.6 32.0Q51.8 35.1 54.2 33.2M54.2 33.2Q56.5 31.7 55.1 28.9Q52.7 30.9 54.2 33.2M63.9 39.1Q66.8 37.8 65.7 34.5Q62.5 36.2 63.9 39.1M63.0 37.3Q61.3 34.9 58.3 36.6Q60.6 39.1 63.0 37.3M63.0 37.3Q65.7 36.2 64.5 33.1Q61.7 34.7 63.0 37.3M62.2 35.6Q61.0 33.3 58.3 34.3Q59.9 36.8 62.2 35.6M62.2 35.6Q64.5 34.3 63.8 31.3Q61.3 33.1 62.2 35.6M61.3 33.9Q64.3 32.9 63.5 29.5Q60.3 30.9 61.3 33.9M67.7 37.1Q70.3 36.2 69.7 33.1Q67.0 34.5 67.7 37.1M67.7 37.1Q68.5 39.7 71.4 38.8Q70.2 36.0 67.7 37.1M69.5 36.0Q71.9 34.4 69.7 32.3Q67.4 34.2 69.5 36.0M69.5 36.0Q71.1 38.1 73.3 36.2Q71.4 34.1 69.5 36.0M71.4 34.9Q74.0 33.0 72.2 29.8Q69.5 32.2 71.4 34.9M71.4 34.9Q72.5 37.8 76.0 37.1Q74.3 34.0 71.4 34.9M73.2 33.8Q75.8 32.7 74.1 30.1Q71.4 31.6 73.2 33.8M73.2 33.8Q74.6 36.7 77.6 34.8Q75.7 31.8 73.2 33.8M75.0 32.7Q77.7 30.8 75.8 27.7Q73.1 30.1 75.0 32.7M74.3 39.2Q76.2 37.7 74.7 35.4Q72.6 37.3 74.3 39.2M75.7 37.7Q78.2 39.8 80.1 36.9Q77.2 35.0 75.7 37.7M77.2 36.2Q79.0 38.8 81.7 36.7Q79.5 34.0 77.2 36.2M83.5 39.3Q85.8 37.8 83.8 35.6Q81.5 37.5 83.5 39.3M83.5 39.3Q85.0 41.9 87.3 39.6Q85.4 36.9 83.5 39.3M84.9 37.4Q87.4 35.6 84.8 33.7Q82.3 35.9 84.9 37.4M84.9 37.4Q86.9 39.6 88.8 37.1Q86.5 34.9 84.9 37.4M86.4 35.5Q88.4 33.4 85.7 31.9Q83.7 34.3 86.4 35.5M87.8 33.6Q90.2 32.1 88.2 29.9Q85.7 31.7 87.8 33.6M87.8 33.6Q90.3 35.1 92.2 32.6Q89.3 31.2 87.8 33.6M89.2 35.7Q91.8 34.6 90.1 32.0Q87.5 33.5 89.2 35.7M89.2 35.7Q90.7 38.1 93.4 36.4Q91.5 33.8 89.2 35.7M91.4 34.6Q94.1 34.0 93.3 31.0Q90.4 32.0 91.4 34.6M93.5 33.5Q95.8 32.1 94.9 29.1Q92.5 31.0 93.5 33.5M93.5 33.5Q94.2 36.3 97.2 35.3Q96.1 32.3 93.5 33.5M95.6 32.4Q97.9 30.8 96.1 28.2Q93.7 30.2 95.6 32.4M95.6 32.4Q96.7 35.3 100.2 34.7Q98.6 31.6 95.6 32.4M94.1 37.4Q96.7 36.1 96.4 32.8Q93.6 34.6 94.1 37.4M95.9 36.8Q99.1 36.6 98.4 33.2Q95.0 33.8 95.9 36.8M95.9 36.8Q97.4 39.5 100.3 37.9Q98.4 35.1 95.9 36.8M97.7 36.2Q100.5 34.9 99.2 31.6Q96.3 33.4 97.7 36.2M97.7 36.2Q97.6 39.4 100.9 38.6Q100.7 35.2 97.7 36.2M101.0 36.9Q103.6 37.3 103.7 34.5Q100.9 34.4 101.0 36.9M102.9 36.9Q105.9 37.4 106.4 34.1Q103.1 33.9 102.9 36.9M102.9 36.9Q103.1 39.8 106.3 39.6Q105.8 36.4 102.9 36.9M104.9 36.9Q104.6 39.6 107.5 40.5Q107.5 37.4 104.9 36.9M111.0 41.6Q113.1 40.0 111.1 37.9Q108.9 39.9 111.0 41.6M111.0 41.6Q113.4 44.0 116.0 41.3Q113.1 39.0 111.0 41.6M112.3 39.9Q114.6 37.6 112.2 35.0Q109.9 37.8 112.3 39.9M113.6 38.1Q115.0 35.6 112.1 34.1Q110.9 37.0 113.6 38.1M113.6 38.1Q116.4 39.5 118.2 36.4Q114.9 35.2 113.6 38.1M114.9 36.4Q117.2 34.7 114.9 32.7Q112.5 34.7 114.9 36.4M114.9 36.4Q117.6 37.5 119.5 34.7Q116.2 33.8 114.9 36.4M116.1 34.6Q118.0 32.4 115.4 30.5Q113.7 33.2 116.1 34.6M113.9 36.8Q116.4 35.7 115.2 32.9Q112.6 34.4 113.9 36.8M113.9 36.8Q114.7 39.7 118.2 39.6Q116.9 36.4 113.9 36.8M116.0 35.9Q117.4 38.5 120.8 37.8Q118.8 35.0 116.0 35.9M118.1 35.0Q120.9 34.4 120.1 31.3Q117.2 32.3 118.1 35.0M118.1 35.0Q118.5 38.1 121.6 36.8Q120.9 33.5 118.1 35.0M120.2 34.1Q122.4 32.3 121.6 29.1Q119.2 31.4 120.2 34.1M12.0 41.6Q9.1 40.5 8.6 43.7Q11.7 44.6 12.0 41.6M9.8 41.5Q7.1 41.5 6.5 44.4Q9.5 44.1 9.8 41.5M9.8 41.5Q10.0 38.1 6.2 37.9Q6.4 41.6 9.8 41.5M7.6 41.5Q4.6 40.9 4.7 44.2Q8.0 44.5 7.6 41.5M16.9 43.3Q15.3 41.1 12.4 42.3Q14.5 44.6 16.9 43.3M16.9 43.3Q18.7 41.1 16.8 38.6Q15.1 41.2 16.9 43.3M15.6 41.7Q14.0 39.0 11.1 40.9Q13.1 43.6 15.6 41.7M14.2 40.1Q16.1 38.4 14.4 36.0Q12.5 38.2 14.2 40.1M26.0 41.1Q22.9 42.0 23.9 45.4Q27.3 44.1 26.0 41.1M23.7 41.7Q21.0 42.4 21.4 45.5Q24.3 44.4 23.7 41.7M23.7 41.7Q23.2 38.9 20.2 39.5Q21.0 42.5 23.7 41.7M21.3 42.3Q18.2 42.1 18.4 45.5Q21.8 45.4 21.3 42.3M21.3 42.3Q20.5 39.8 17.9 40.9Q19.1 43.6 21.3 42.3M19.0 42.9Q16.4 43.6 16.6 46.6Q19.4 45.5 19.0 42.9M19.0 42.9Q18.5 40.2 15.5 40.1Q16.3 43.0 19.0 42.9M31.8 43.0Q29.5 41.1 27.7 43.9Q30.4 45.7 31.8 43.0M29.7 42.0Q26.7 41.4 25.4 44.6Q28.9 45.0 29.7 42.0M29.7 42.0Q31.2 39.4 28.2 38.1Q26.9 41.0 29.7 42.0M27.6 41.0Q25.5 39.7 23.9 41.9Q26.4 43.2 27.6 41.0M25.5 40.0Q22.6 38.9 20.6 41.7Q23.9 42.7 25.5 40.0M36.5 41.7Q34.0 41.9 34.3 44.7Q37.1 44.2 36.5 41.7M36.5 41.7Q36.5 38.5 33.0 38.3Q33.4 41.8 36.5 41.7M34.2 42.1Q31.2 42.5 32.1 45.8Q35.4 45.0 34.2 42.1M34.2 42.1Q33.2 39.6 30.2 40.2Q31.6 42.9 34.2 42.1M31.9 42.6Q28.8 42.8 29.7 46.0Q33.0 45.5 31.9 42.6M31.9 42.6Q31.4 39.5 27.9 39.3Q28.8 42.7 31.9 42.6M39.9 42.3Q38.4 39.8 35.8 41.7Q37.7 44.2 39.9 42.3M39.9 42.3Q42.2 40.6 39.8 38.5Q37.5 40.6 39.9 42.3M38.5 40.6Q36.5 38.8 34.0 40.5Q36.5 42.4 38.5 40.6M37.1 38.9Q34.7 36.6 32.3 39.3Q35.2 41.6 37.1 38.9M52.4 47.7Q50.9 45.5 48.3 47.1Q50.3 49.5 52.4 47.7M52.4 47.7Q54.5 45.6 51.8 43.9Q49.7 46.4 52.4 47.7M50.7 45.9Q53.2 43.8 50.5 41.6Q48.1 44.1 50.7 45.9M49.1 44.1Q47.8 41.1 44.7 42.9Q46.4 46.0 49.1 44.1M47.5 42.3Q45.3 40.3 42.9 42.6Q45.6 44.6 47.5 42.3M47.5 42.3Q49.6 40.7 47.9 38.3Q45.8 40.3 47.5 42.3M45.9 40.5Q43.4 38.1 40.8 40.8Q43.7 43.2 45.9 40.5M45.9 40.5Q47.8 38.6 45.5 36.7Q43.6 39.0 45.9 40.5M54.4 47.3Q54.0 44.2 50.6 44.9Q51.4 48.3 54.4 47.3M54.4 47.3Q57.6 47.0 57.5 43.5Q54.0 44.2 54.4 47.3M54.1 45.1Q54.1 42.4 51.1 42.3Q51.4 45.3 54.1 45.1M54.1 45.1Q57.2 45.0 56.2 41.8Q52.9 42.2 54.1 45.1M53.8 42.8Q52.8 40.3 49.9 40.9Q51.2 43.5 53.8 42.8M53.8 42.8Q56.2 42.9 56.4 40.3Q53.7 40.4 53.8 42.8M53.4 40.5Q53.4 37.9 50.6 38.2Q50.9 41.0 53.4 40.5M53.4 40.5Q56.0 39.7 55.3 36.8Q52.6 38.0 53.4 40.5M53.1 38.2Q56.0 37.7 54.6 34.8Q51.5 35.7 53.1 38.2M63.6 45.6Q65.5 43.6 63.0 42.0Q61.2 44.4 63.6 45.6M62.0 44.2Q59.8 42.1 56.9 44.0Q59.6 46.1 62.0 44.2M62.0 44.2Q63.5 41.3 60.4 39.4Q59.0 42.8 62.0 44.2M60.3 42.8Q57.8 41.7 55.6 44.0Q58.6 45.0 60.3 42.8M60.3 42.8Q62.1 40.4 60.0 37.9Q58.2 40.7 60.3 42.8M58.7 41.4Q56.9 39.5 54.4 41.1Q56.7 43.0 58.7 41.4M58.7 41.4Q60.7 39.6 58.8 37.2Q56.8 39.4 58.7 41.4M64.2 45.4Q65.4 43.1 63.2 41.2Q62.1 43.9 64.2 45.4M64.2 45.4Q66.9 46.5 68.3 43.5Q65.2 42.6 64.2 45.4M65.4 43.3Q67.5 45.5 69.2 42.8Q66.8 40.8 65.4 43.3M66.7 41.3Q68.7 39.5 66.5 37.5Q64.6 39.7 66.7 41.3M66.7 41.3Q69.3 42.7 70.9 39.9Q67.9 38.6 66.7 41.3M67.9 39.3Q69.8 36.8 66.8 35.2Q65.1 38.1 67.9 39.3M67.9 39.3Q70.5 41.0 71.3 37.8Q68.4 36.2 67.9 39.3M73.9 47.9Q73.1 44.9 69.8 45.5Q71.0 48.7 73.9 47.9M73.9 47.9Q77.2 48.1 77.5 44.5Q73.9 44.6 73.9 47.9M73.8 45.8Q76.7 45.4 75.7 42.4Q72.7 43.1 73.8 45.8M73.7 43.7Q76.5 44.6 76.6 41.4Q73.6 40.8 73.7 43.7M73.6 41.6Q74.0 38.7 70.8 38.7Q70.6 41.9 73.6 41.6M73.6 41.6Q75.9 41.2 75.6 38.6Q73.0 39.3 73.6 41.6M73.5 39.5Q76.4 40.0 77.0 36.8Q73.7 36.6 73.5 39.5M78.9 42.1Q81.8 41.2 80.4 38.3Q77.3 39.5 78.9 42.1M78.9 42.1Q81.1 44.7 84.0 42.4Q81.3 39.7 78.9 42.1M80.5 40.9Q83.1 39.2 81.2 36.3Q78.5 38.5 80.5 40.9M80.5 40.9Q82.3 43.5 85.0 41.3Q82.7 38.7 80.5 40.9M82.0 39.8Q84.0 38.3 82.5 36.1Q80.4 37.9 82.0 39.8M82.0 39.8Q83.8 42.0 85.6 39.5Q83.4 37.3 82.0 39.8M83.5 38.6Q85.8 36.7 83.4 34.7Q81.1 36.9 83.5 38.6M83.5 38.6Q85.1 41.3 88.3 40.0Q86.3 37.1 83.5 38.6M85.5 44.0Q87.1 41.7 84.3 40.4Q82.9 43.1 85.5 44.0M85.5 44.0Q88.5 44.7 88.6 41.5Q85.4 41.0 85.5 44.0M86.1 42.1Q87.4 39.3 84.2 38.7Q83.1 41.8 86.1 42.1M86.1 42.1Q89.0 42.7 89.3 39.4Q86.1 39.1 86.1 42.1M86.7 40.2Q87.7 37.8 85.4 36.1Q84.5 38.9 86.7 40.2M87.3 38.2Q90.5 39.0 91.1 35.5Q87.5 35.0 87.3 38.2M87.8 36.3Q89.5 33.5 86.5 31.6Q84.9 34.9 87.8 36.3M87.8 36.3Q90.2 36.5 90.7 33.9Q88.0 33.9 87.8 36.3M90.7 39.0Q90.8 41.7 93.7 42.3Q93.4 39.4 90.7 39.0M93.2 39.2Q93.5 42.2 96.8 42.3Q96.1 39.0 93.2 39.2M95.6 39.4Q98.2 39.9 98.7 37.0Q95.8 36.8 95.6 39.4M95.6 39.4Q96.0 42.3 99.2 42.1Q98.5 39.0 95.6 39.4M98.1 39.6Q101.1 40.3 101.0 37.0Q97.7 36.6 98.1 39.6M101.3 41.8Q103.6 43.5 104.8 40.7Q102.2 39.1 101.3 41.8M101.3 41.8Q99.8 44.3 102.8 45.4Q104.1 42.5 101.3 41.8M103.3 42.5Q105.9 43.7 107.3 40.9Q104.3 39.8 103.3 42.5M103.3 42.5Q102.0 45.4 105.3 45.9Q106.3 42.7 103.3 42.5M107.5 43.1Q109.4 41.3 107.4 39.3Q105.5 41.5 107.5 43.1M109.3 41.4Q111.3 43.6 113.3 41.1Q110.9 39.0 109.3 41.4M111.2 39.8Q113.4 38.2 112.4 35.2Q110.1 37.2 111.2 39.8M111.2 39.8Q113.5 41.9 115.5 39.1Q112.8 37.0 111.2 39.8M113.0 38.1Q115.9 36.3 113.9 33.1Q110.9 35.4 113.0 38.1M113.0 38.1Q114.6 40.0 117.0 38.6Q115.0 36.6 113.0 38.1M113.9 44.9Q115.8 42.8 113.9 40.4Q112.0 42.9 113.9 44.9M113.9 44.9Q116.1 47.2 118.9 45.2Q116.3 42.8 113.9 44.9M115.5 43.3Q117.3 40.9 115.4 38.1Q113.7 41.0 115.5 43.3M115.5 43.3Q116.7 45.9 119.1 44.0Q117.6 41.3 115.5 43.3M117.1 41.6Q119.7 39.9 117.5 37.3Q114.9 39.5 117.1 41.6M117.1 41.6Q119.6 43.5 121.4 40.6Q118.5 38.8 117.1 41.6M118.4 44.7Q120.5 43.0 118.6 40.7Q116.4 42.8 118.4 44.7M120.1 43.5Q122.2 42.0 120.5 39.8Q118.3 41.6 120.1 43.5M17.7 47.3Q19.1 45.1 16.8 43.5Q15.5 46.1 17.7 47.3M15.8 46.6Q17.3 44.2 14.6 42.9Q13.2 45.6 15.8 46.6M14.0 45.8Q14.9 43.1 11.8 42.7Q11.0 45.8 14.0 45.8M12.1 45.1Q13.8 42.5 10.7 41.0Q9.1 44.1 12.1 45.1M27.1 47.9Q27.0 45.4 24.1 45.2Q24.6 48.0 27.1 47.9M24.9 48.2Q24.7 45.3 21.6 46.0Q22.2 49.0 24.9 48.2M22.7 48.5Q22.3 45.3 18.9 46.2Q19.6 49.6 22.7 48.5M20.4 48.8Q19.7 46.2 16.7 46.3Q17.8 49.1 20.4 48.8M30.7 47.5Q30.1 44.5 26.8 45.1Q27.8 48.3 30.7 47.5M28.5 48.1Q28.0 45.4 25.0 45.9Q25.9 48.9 28.5 48.1M26.4 48.8Q26.0 45.6 22.8 46.9Q23.5 50.2 26.4 48.8M39.0 48.2Q41.1 46.5 39.8 43.7Q37.6 45.9 39.0 48.2M37.5 46.9Q35.2 45.5 32.9 47.6Q35.7 48.9 37.5 46.9M37.5 46.9Q39.3 44.4 37.1 41.8Q35.4 44.7 37.5 46.9M36.1 45.6Q33.7 44.2 31.6 46.6Q34.5 47.8 36.1 45.6M36.1 45.6Q38.7 43.6 36.7 40.5Q34.1 43.0 36.1 45.6M34.7 44.2Q32.1 42.4 29.8 45.1Q32.9 46.9 34.7 44.2M34.7 44.2Q37.3 43.0 35.3 40.6Q32.6 42.2 34.7 44.2M45.7 48.8Q47.2 45.8 43.9 44.0Q42.5 47.5 45.7 48.8M43.3 48.2Q44.6 45.7 41.9 44.0Q40.8 46.9 43.3 48.2M41.0 47.6Q42.2 45.0 39.5 43.3Q38.4 46.3 41.0 47.6M53.9 47.6Q55.4 45.2 53.0 43.0Q51.7 46.0 53.9 47.6M49.5 45.7Q46.6 44.8 45.3 47.9Q48.6 48.6 49.5 45.7M49.5 45.7Q50.9 43.2 47.9 42.3Q46.7 45.1 49.5 45.7M63.6 48.5Q60.4 48.3 59.7 51.8Q63.3 51.7 63.6 48.5M63.6 48.5Q63.7 45.7 60.8 46.2Q61.0 49.2 63.6 48.5M61.2 48.6Q58.2 48.2 58.8 51.3Q61.9 51.4 61.2 48.6M61.2 48.6Q61.3 45.7 58.2 46.0Q58.4 49.1 61.2 48.6M58.7 48.6Q58.6 45.9 55.6 46.2Q56.0 49.2 58.7 48.6M56.2 48.7Q55.7 46.0 52.5 45.7Q53.4 48.8 56.2 48.7M53.7 48.8Q53.8 45.5 50.2 45.1Q50.4 48.8 53.7 48.8M66.0 49.8Q63.1 49.5 61.6 52.4Q64.9 52.5 66.0 49.8M66.0 49.8Q67.2 47.3 64.7 45.3Q63.5 48.3 66.0 49.8M64.1 49.0Q61.1 48.4 59.7 51.6Q63.2 51.9 64.1 49.0M62.2 48.1Q59.3 46.5 57.8 49.8Q61.1 51.2 62.2 48.1M60.3 47.2Q57.7 45.9 56.5 48.9Q59.5 50.0 60.3 47.2M60.3 47.2Q62.0 44.5 58.8 43.3Q57.3 46.3 60.3 47.2M65.4 49.2Q68.3 48.3 67.8 44.9Q64.7 46.3 65.4 49.2M67.3 48.4Q69.6 47.1 68.1 44.6Q65.7 46.2 67.3 48.4M67.3 48.4Q68.5 50.7 71.2 49.5Q69.5 47.0 67.3 48.4M69.1 47.5Q72.1 46.8 70.8 43.7Q67.6 44.8 69.1 47.5M70.9 46.7Q73.1 45.5 71.8 43.2Q69.5 44.7 70.9 46.7M70.9 46.7Q71.3 49.4 74.2 48.7Q73.5 45.8 70.9 46.7M71.2 47.6Q74.0 47.6 74.0 44.6Q70.9 44.8 71.2 47.6M71.2 47.6Q71.2 50.6 74.5 50.2Q74.2 47.0 71.2 47.6M73.1 47.1Q76.3 46.8 75.3 43.5Q71.9 44.1 73.1 47.1M73.1 47.1Q73.2 49.8 76.2 49.4Q75.8 46.4 73.1 47.1M76.9 46.0Q79.3 45.6 79.2 42.9Q76.5 43.5 76.9 46.0M76.9 46.0Q77.1 49.1 80.3 48.2Q79.8 44.9 76.9 46.0M78.8 45.4Q81.8 44.7 81.3 41.3Q78.1 42.4 78.8 45.4M78.8 45.4Q80.4 47.8 83.5 47.0Q81.4 44.5 78.8 45.4M80.1 47.4Q82.3 46.4 81.3 43.8Q79.0 45.3 80.1 47.4M80.1 47.4Q80.8 50.5 83.9 48.9Q82.7 45.7 80.1 47.4M82.2 46.6Q82.8 49.4 86.0 48.8Q85.0 45.7 82.2 46.6M84.4 45.7Q84.6 48.8 87.8 47.7Q87.2 44.4 84.4 45.7M86.5 44.8Q89.6 44.3 88.8 41.0Q85.5 41.9 86.5 44.8M86.5 44.8Q87.6 47.6 90.8 46.9Q89.3 43.9 86.5 44.8M88.7 44.0Q91.7 43.3 90.9 40.0Q87.6 41.0 88.7 44.0M88.7 44.0Q89.8 46.9 93.2 46.0Q91.6 42.8 88.7 44.0M86.2 48.4Q88.7 47.5 87.6 44.8Q84.9 46.0 86.2 48.4M88.2 47.1Q91.1 45.9 89.3 43.0Q86.3 44.6 88.2 47.1M88.2 47.1Q89.5 49.2 91.9 47.9Q90.2 45.8 88.2 47.1M90.3 45.9Q92.4 44.6 91.1 42.2Q88.9 43.9 90.3 45.9M90.3 45.9Q91.8 48.2 94.4 46.5Q92.4 44.2 90.3 45.9M92.4 44.7Q94.6 43.2 92.7 40.9Q90.4 42.8 92.4 44.7M92.4 44.7Q94.2 47.3 96.9 45.1Q94.6 42.4 92.4 44.7M94.4 43.5Q96.9 42.4 96.5 39.3Q93.9 40.8 94.4 43.5M94.4 43.5Q95.5 46.0 98.6 45.4Q97.1 42.6 94.4 43.5M97.6 50.3Q99.3 48.2 97.3 46.0Q95.7 48.5 97.6 50.3M97.6 50.3Q99.2 53.2 102.5 51.6Q100.4 48.5 97.6 50.3M99.3 48.8Q101.5 50.5 104.3 48.9Q101.6 47.1 99.3 48.8M101.1 47.3Q102.4 49.7 104.7 47.8Q103.0 45.3 101.1 47.3M103.0 50.1Q105.4 48.4 103.5 45.7Q101.1 47.9 103.0 50.1M103.0 50.1Q105.2 52.1 107.9 50.0Q105.1 47.9 103.0 50.1M104.7 48.9Q107.3 47.6 105.2 45.2Q102.6 46.9 104.7 48.9M104.7 48.9Q106.4 50.7 108.7 49.1Q106.6 47.2 104.7 48.9M106.4 47.6Q108.1 50.3 110.8 48.1Q108.6 45.4 106.4 47.6M108.5 51.0Q110.6 48.9 107.7 47.5Q105.7 49.9 108.5 51.0M108.5 51.0Q110.2 52.9 112.6 51.4Q110.5 49.5 108.5 51.0M110.0 49.2Q112.3 50.9 113.6 48.0Q110.9 46.5 110.0 49.2M113.1 45.5Q115.4 47.4 117.0 44.5Q114.3 42.7 113.1 45.5M114.6 43.6Q117.4 41.7 115.1 38.8Q112.3 41.2 114.6 43.6M114.6 43.6Q117.2 45.2 118.8 42.3Q115.9 40.9 114.6 43.6M117.1 49.6Q119.5 48.2 117.7 45.8Q115.3 47.6 117.1 49.6M117.1 49.6Q118.8 52.4 121.8 50.6Q119.7 47.7 117.1 49.6M118.5 48.3Q121.1 46.8 119.2 44.2Q116.5 46.1 118.5 48.3M119.9 47.0Q121.6 45.2 120.0 42.9Q118.2 45.1 119.9 47.0M57.1 49.1Q54.5 50.0 56.0 52.6Q58.7 51.4 57.1 49.1M57.1 49.1Q55.7 47.0 53.1 48.3Q55.0 50.5 57.1 49.1M60.8 51.7Q59.4 49.2 56.7 51.0Q58.6 53.6 60.8 51.7M60.8 51.7Q63.3 50.0 60.7 48.1Q58.2 50.2 60.8 51.7M59.5 49.9Q58.0 48.0 55.8 49.6Q57.6 51.5 59.5 49.9M66.7 53.3Q69.2 52.9 68.9 50.1Q66.1 50.8 66.7 53.3M68.7 52.7Q71.2 51.7 70.3 48.9Q67.6 50.2 68.7 52.7M70.7 52.1Q73.3 50.8 71.9 47.8Q69.1 49.5 70.7 52.1M71.8 51.3Q74.3 53.4 76.6 50.7Q73.6 48.5 71.8 51.3M76.5 50.2Q79.2 51.3 79.9 48.2Q76.9 47.3 76.5 50.2M78.3 50.7Q81.0 51.3 81.9 48.4Q78.8 48.0 78.3 50.7M82.0 51.7Q84.9 52.3 85.7 49.1Q82.4 48.8 82.0 51.7M83.8 52.2Q86.9 53.6 88.6 50.3Q85.0 49.1 83.8 52.2M84.8 50.8Q87.0 53.1 89.7 50.7Q86.9 48.3 84.8 50.8M86.5 52.0Q89.3 53.8 91.0 50.6Q87.7 48.9 86.5 52.0M88.3 53.2Q90.2 55.4 92.6 53.2Q90.2 51.0 88.3 53.2M99.3 47.5Q102.0 49.4 104.0 46.4Q100.8 44.5 99.3 47.5M99.3 47.5Q96.9 49.1 99.1 51.3Q101.5 49.3 99.3 47.5M101.1 49.0Q103.0 50.8 105.2 48.9Q102.9 47.2 101.1 49.0M103.0 50.6Q104.7 52.4 106.8 50.7Q104.8 48.9 103.0 50.6M104.9 52.2Q107.5 54.3 109.6 51.3Q106.6 49.2 104.9 52.2M107.7 53.0Q110.4 54.4 111.5 51.2Q108.4 50.0 107.7 53.0" fill="#f4f4f4" fill-opacity="0.7" stroke="#747474" stroke-width="0.5"/>
<path d="M21.4 9.0L14.4 7.0M41.6 10.8L37.1 5.1M91.9 10.4L94.9 5.2M11.0 15.2L6.2 6.9M21.0 13.0L11.6 11.8M26.7 14.1L21.9 10.6M34.3 17.0L25.5 8.4M40.9 15.0L35.8 9.8M44.4 16.2L38.8 10.9M49.0 19.4L53.5 8.1M58.8 13.9L60.0 7.8M66.1 15.7L66.2 9.7M70.2 13.7L69.2 6.9M76.2 16.5L79.8 11.4M84.2 16.8L88.8 9.4M87.5 15.6L94.1 10.7M95.4 14.8L100.2 9.2M99.2 12.6L108.9 11.2M111.5 14.2L112.6 8.0M113.6 14.3L121.5 10.8M16.8 17.7L8.9 18.6M25.8 20.4L16.9 18.2M29.0 23.7L25.8 12.9M38.9 20.6L29.3 16.9M43.2 20.5L33.0 15.3M45.6 23.1L44.1 16.5M54.1 21.0L54.1 15.2M58.5 21.7L62.0 16.9M65.3 19.5L68.5 14.6M75.5 21.7L71.5 9.9M80.7 22.1L79.6 16.3M88.8 22.8L88.7 13.9M92.3 24.5L95.5 13.4M98.6 19.7L104.9 19.4M108.4 20.9L113.1 14.3M111.0 18.9L117.2 15.0M9.2 26.3L6.3 21.0M19.0 28.0L14.1 22.8M26.0 24.1L20.0 22.0M31.6 27.4L28.5 22.4M39.9 28.1L33.0 23.4M43.4 27.0L42.2 16.9M52.7 27.8L52.1 16.1M57.8 28.7L59.7 20.1M61.5 26.7L63.9 17.9M75.3 27.4L70.9 16.4M81.0 28.6L79.3 22.5M86.7 30.7L87.1 20.1M90.1 27.6L91.3 20.7M97.2 27.8L103.7 21.3M102.3 29.7L110.3 20.3M111.9 27.2L117.3 19.2M113.9 25.4L121.3 17.5M15.2 31.4L6.2 24.6M23.1 27.8L15.2 29.3M31.1 29.8L22.4 28.3M35.2 33.7L34.1 27.9M40.4 34.1L35.8 26.0M50.3 31.5L42.9 24.6M55.4 35.4L52.0 27.8M60.9 35.3L61.3 27.3M65.5 30.8L71.4 25.4M74.3 31.6L77.4 25.5M81.2 33.0L81.4 22.8M82.0 28.6L90.3 27.0M91.1 30.2L101.0 29.5M98.5 29.5L108.1 31.7M108.3 34.1L112.7 23.9M111.7 33.2L119.3 26.4M11.3 34.4L5.5 33.9M21.3 36.7L13.3 31.6M27.2 35.4L21.0 33.2M35.1 37.4L26.5 32.6M40.9 37.6L33.1 36.1M48.8 38.8L39.0 33.3M52.9 38.7L44.2 33.0M57.2 38.9L53.1 31.3M63.9 39.1L60.5 32.1M67.7 37.1L76.8 31.6M74.3 39.2L78.7 34.7M83.5 39.3L89.2 31.7M89.2 35.7L97.7 31.3M94.1 37.4L101.3 35.0M101.0 36.9L106.8 36.9M111.0 41.6L117.4 32.9M113.9 36.8L122.3 33.1M16.9 43.3L11.5 37.0M26.0 41.1L16.7 43.5M31.8 43.0L23.4 39.1M36.5 41.7L29.6 43.0M39.9 42.3L35.8 37.2M52.4 47.7L44.2 38.7M54.4 47.3L52.7 36.0M63.6 45.6L57.0 40.0M64.2 45.4L69.2 37.2M73.9 47.9L73.4 37.5M78.9 42.1L85.0 37.4M85.5 44.0L88.4 34.4M90.7 39.0L100.5 39.8M99.3 41.0L105.2 43.3M107.5 43.1L114.9 36.4M113.9 44.9L118.7 40.0M17.7 47.3L10.2 44.4M53.9 47.6L47.3 44.7M63.6 48.5L51.2 48.9M66.0 49.8L58.4 46.3M65.4 49.2L72.8 45.9M71.2 47.6L80.7 44.9M80.1 47.4L90.8 43.1M86.2 48.4L96.5 42.3M97.6 50.3L102.9 45.8M103.0 50.1L108.0 46.4M108.5 51.0L116.2 41.8M66.7 53.3L72.7 51.4M76.5 50.2L85.7 52.7" fill="none" stroke="#8d8d8d" stroke-width="0.45"/>
<path d="M65.0 52.0 C62.0 45.0 58.0 39.0 50.0 34.0 C42.0 29.0 32.0 25.0 20.0 21.0 M68.0 50.0 C68.0 43.0 71.0 37.0 77.0 33.0 C87.0 27.0 99.0 27.0 112.0 23.0 M66.0 46.0 C65.0 36.0 62.0 26.0 56.0 16.0 M71.0 40.0 C75.0 32.0 82.0 24.0 92.0 16.0" fill="none" stroke="#6f6f6f" stroke-width="2.0" stroke-linecap="round"/>
<path d="M65.0 52.0 C62.0 45.0 58.0 39.0 50.0 34.0 C42.0 29.0 32.0 25.0 20.0 21.0 M68.0 50.0 C68.0 43.0 71.0 37.0 77.0 33.0 C87.0 27.0 99.0 27.0 112.0 23.0 M66.0 46.0 C65.0 36.0 62.0 26.0 56.0 16.0 M71.0 40.0 C75.0 32.0 82.0 24.0 92.0 16.0" fill="none" stroke="#f0f0f0" stroke-width="0.9" stroke-linecap="round"/>
<path d="M73.6 52.9Q71.2 52.0 71.1 54.8Q73.8 55.5 73.6 52.9M53.9 60.0Q53.8 62.1 56.0 61.6Q55.9 59.4 53.9 60.0M78.4 69.4Q79.1 71.8 81.7 71.1Q80.7 68.6 78.4 69.4M52.8 61.0Q51.3 59.2 49.8 61.3Q51.6 63.0 52.8 61.0M86.8 68.5Q85.5 65.8 83.5 68.3Q85.2 71.0 86.8 68.5M59.6 82.4Q57.5 83.4 58.6 85.8Q60.8 84.4 59.6 82.4M70.2 81.9Q71.4 79.8 69.1 78.6Q68.0 80.9 70.2 81.9M65.3 60.9Q64.1 63.1 66.4 64.7Q67.5 62.1 65.3 60.9M56.0 56.5Q53.6 55.6 54.0 58.3Q56.7 59.0 56.0 56.5M64.2 76.9Q66.6 77.2 66.3 74.6Q63.7 74.6 64.2 76.9M82.7 60.6Q83.3 57.8 80.2 58.3Q79.9 61.4 82.7 60.6M48.8 61.7Q48.4 64.6 51.3 63.6Q51.4 60.6 48.8 61.7M59.7 90.0Q58.7 87.7 56.4 89.1Q57.7 91.5 59.7 90.0M62.3 64.6Q59.7 64.8 61.3 67.0Q63.9 66.6 62.3 64.6M64.5 68.8Q61.9 69.7 63.6 72.2Q66.2 70.9 64.5 68.8M53.8 63.9Q54.9 66.1 57.5 65.3Q56.0 63.0 53.8 63.9M72.4 63.8Q70.4 61.9 68.9 64.5Q71.3 66.3 72.4 63.8M50.8 64.5Q52.6 62.8 50.3 61.4Q48.6 63.4 50.8 64.5M81.3 76.4Q78.3 76.2 79.2 79.3Q82.4 79.2 81.3 76.4M80.6 52.8Q83.4 52.9 82.6 50.0Q79.6 50.2 80.6 52.8M72.9 74.9Q70.9 75.1 71.4 77.3Q73.6 76.9 72.9 74.9M76.4 64.2Q74.5 63.3 74.1 65.5Q76.2 66.3 76.4 64.2M76.6 55.1Q78.8 53.8 77.2 51.5Q75.0 53.1 76.6 55.1M85.4 64.2Q85.8 66.4 88.2 66.0Q87.6 63.7 85.4 64.2M72.3 75.4Q73.6 73.1 70.8 72.9Q69.7 75.5 72.3 75.4M69.1 66.3Q69.1 63.8 66.3 63.6Q66.6 66.4 69.1 66.3M57.5 74.8Q57.9 72.5 55.4 72.8Q55.2 75.3 57.5 74.8M59.0 85.4Q59.3 83.4 57.1 83.3Q56.9 85.6 59.0 85.4M69.8 81.1Q70.8 79.1 68.5 78.5Q67.7 80.8 69.8 81.1M63.2 85.9Q65.4 86.5 65.6 84.1Q63.2 83.7 63.2 85.9M70.6 55.7Q68.6 58.0 71.6 59.4Q73.5 56.7 70.6 55.7M85.3 69.7Q84.7 72.6 87.8 72.4Q88.2 69.2 85.3 69.7M75.0 67.5Q76.8 65.5 74.2 64.1Q72.5 66.4 75.0 67.5M52.2 76.0Q53.6 73.6 50.7 72.5Q49.5 75.3 52.2 76.0M69.2 54.5Q66.9 53.4 66.8 56.1Q69.4 57.1 69.2 54.5M66.1 55.3Q65.4 52.7 63.5 54.8Q64.4 57.5 66.1 55.3M71.6 58.0Q72.4 60.5 74.9 59.3Q73.8 56.7 71.6 58.0M67.6 67.5Q65.7 65.6 64.7 68.3Q66.9 70.1 67.6 67.5M70.8 72.2Q69.2 74.0 71.6 75.1Q73.0 72.9 70.8 72.2M69.5 72.0Q70.6 74.2 73.1 73.2Q71.7 70.8 69.5 72.0M68.5 89.7Q68.9 92.4 71.0 90.4Q70.3 87.7 68.5 89.7M74.0 59.9Q71.5 59.6 70.8 62.3Q73.6 62.4 74.0 59.9M52.2 55.3Q50.4 56.8 51.7 59.1Q53.6 57.3 52.2 55.3M65.5 87.4Q64.1 89.1 65.9 90.7Q67.3 88.7 65.5 87.4M74.9 81.1Q77.4 80.4 76.1 77.9Q73.5 78.9 74.9 81.1M74.5 78.4Q73.7 81.0 76.6 81.4Q77.3 78.5 74.5 78.4M76.3 63.3Q73.8 63.2 74.7 65.6Q77.4 65.5 76.3 63.3M84.0 79.8Q87.0 79.5 86.1 76.5Q83.0 77.1 84.0 79.8M86.5 51.1Q84.3 51.9 85.2 54.3Q87.5 53.2 86.5 51.1M69.7 82.0Q72.0 82.0 71.2 79.7Q68.8 79.9 69.7 82.0M60.3 84.4Q57.9 85.5 59.8 87.6Q62.3 86.2 60.3 84.4M69.5 54.7Q68.0 52.1 65.9 54.4Q67.7 57.0 69.5 54.7M76.9 78.5Q79.6 79.8 79.6 76.7Q76.7 75.6 76.9 78.5M66.6 74.3Q69.2 73.7 67.2 71.7Q64.5 72.5 66.6 74.3M61.9 61.9Q64.0 61.0 62.6 59.0Q60.4 60.2 61.9 61.9M78.0 59.6Q76.1 60.9 77.8 62.7Q79.7 61.2 78.0 59.6M63.5 72.2Q62.7 74.7 65.4 75.7Q66.0 72.9 63.5 72.2M59.7 78.0Q61.6 76.2 59.1 75.0Q57.2 77.1 59.7 78.0M61.1 89.9Q58.3 90.3 60.2 92.5Q63.1 91.9 61.1 89.9M80.6 83.1Q81.9 81.3 79.8 80.2Q78.7 82.2 80.6 83.1M64.2 90.2Q66.1 88.0 63.1 87.3Q61.3 89.8 64.2 90.2M69.1 63.6Q70.6 61.4 67.8 60.6Q66.4 63.1 69.1 63.6M60.1 77.6Q59.4 75.4 57.3 76.6Q58.2 78.8 60.1 77.6M60.2 89.1Q58.4 90.9 60.8 92.2Q62.5 90.1 60.2 89.1M65.5 66.1Q64.3 63.6 62.4 65.9Q64.0 68.3 65.5 66.1M75.1 59.9Q77.4 59.6 76.2 57.4Q73.8 58.0 75.1 59.9M76.8 88.1Q77.8 85.5 74.9 86.0Q74.1 88.8 76.8 88.1M65.1 74.5Q63.4 76.2 65.1 78.1Q66.8 76.1 65.1 74.5M63.5 91.4Q65.6 89.8 63.0 88.6Q61.0 90.6 63.5 91.4M71.4 68.5Q69.6 67.1 68.4 69.3Q70.6 70.6 71.4 68.5M86.4 86.1Q86.1 88.4 88.5 88.3Q88.6 85.9 86.4 86.1M63.5 89.4Q63.5 91.7 66.1 91.8Q65.8 89.2 63.5 89.4M59.2 86.2Q61.8 85.1 59.6 83.1Q57.1 84.5 59.2 86.2M68.6 92.7Q65.8 93.0 67.2 95.7Q70.2 95.1 68.6 92.7M79.7 66.3Q81.6 68.0 82.5 65.5Q80.4 63.9 79.7 66.3M53.6 77.1Q56.0 76.2 54.1 74.3Q51.6 75.4 53.6 77.1M50.5 56.8Q52.7 58.2 52.9 55.5Q50.4 54.2 50.5 56.8M73.3 65.9Q70.7 65.7 71.6 68.3Q74.3 68.3 73.3 65.9M84.5 57.5Q85.3 55.1 82.6 55.0Q82.0 57.6 84.5 57.5M53.4 52.4Q51.4 50.8 50.4 53.4Q52.7 54.9 53.4 52.4M74.5 71.9Q75.7 69.7 73.2 68.4Q72.2 71.0 74.5 71.9M76.1 78.2Q75.1 75.9 72.4 76.6Q73.8 79.0 76.1 78.2M78.5 62.7Q80.4 60.7 77.6 59.8Q75.7 62.1 78.5 62.7M71.6 86.1Q70.2 84.0 68.8 86.3Q70.5 88.4 71.6 86.1M63.2 76.9Q63.8 79.8 66.6 78.3Q65.7 75.3 63.2 76.9M73.5 57.1Q71.0 57.9 72.3 60.5Q74.9 59.3 73.5 57.1M70.6 66.0Q73.1 67.0 73.9 64.1Q71.1 63.4 70.6 66.0M65.4 50.6Q67.4 52.2 67.9 49.6Q65.7 48.2 65.4 50.6M86.4 53.4Q86.0 51.0 83.5 51.8Q84.2 54.4 86.4 53.4M71.7 63.3Q72.8 65.5 74.7 63.7Q73.3 61.5 71.7 63.3M56.5 64.8Q54.1 66.1 55.7 68.7Q58.2 67.0 56.5 64.8M82.1 66.1Q84.5 66.7 83.9 64.2Q81.3 63.7 82.1 66.1M69.3 53.5Q67.2 52.4 66.2 54.8Q68.5 55.7 69.3 53.5M69.3 88.0Q70.3 85.6 67.6 84.5Q66.8 87.3 69.3 88.0M61.9 52.4Q62.8 50.2 60.2 49.8Q59.6 52.3 61.9 52.4M79.5 74.7Q80.7 72.7 78.3 72.1Q77.2 74.3 79.5 74.7M80.1 69.9Q78.8 71.9 81.2 72.5Q82.3 70.3 80.1 69.9M81.9 51.9Q83.0 54.2 84.8 52.2Q83.5 49.9 81.9 51.9M80.4 51.0Q82.9 50.1 81.8 47.3Q79.1 48.6 80.4 51.0M80.9 57.0Q83.2 58.2 84.6 55.7Q81.9 54.6 80.9 57.0M47.7 53.0Q48.9 50.5 46.1 49.4Q45.0 52.2 47.7 53.0M69.5 53.7Q71.3 55.5 73.3 53.6Q71.2 51.8 69.5 53.7M67.9 76.1Q65.4 75.2 65.2 78.1Q68.0 78.8 67.9 76.1M76.7 60.2Q78.0 57.5 74.7 57.0Q73.6 60.1 76.7 60.2M61.9 50.9Q59.5 51.5 60.9 53.7Q63.4 52.8 61.9 50.9M60.3 68.4Q57.7 67.1 57.0 70.2Q59.9 71.4 60.3 68.4M87.1 51.3Q89.5 51.8 89.1 49.1Q86.5 48.9 87.1 51.3M48.8 51.9Q50.8 52.9 51.7 50.7Q49.5 49.7 48.8 51.9M72.4 81.3Q71.8 78.7 69.0 79.7Q70.0 82.5 72.4 81.3M72.8 81.2Q74.5 79.5 72.5 78.0Q70.8 80.0 72.8 81.2M76.1 56.7Q76.6 53.7 73.5 54.6Q73.3 57.7 76.1 56.7M65.4 71.4Q67.9 73.0 68.5 69.9Q65.7 68.5 65.4 71.4M79.5 62.5Q78.1 60.0 76.0 62.3Q77.7 64.8 79.5 62.5M86.7 62.7Q84.3 61.3 83.6 64.2Q86.3 65.5 86.7 62.7M72.2 90.7Q72.6 93.6 75.5 92.3Q74.7 89.3 72.2 90.7M75.0 54.1Q74.5 56.4 76.9 55.9Q77.2 53.5 75.0 54.1M74.0 63.0Q71.1 63.7 72.8 66.4Q75.9 65.4 74.0 63.0M78.8 65.5Q76.0 65.0 76.8 67.9Q79.8 68.2 78.8 65.5M82.3 57.9Q84.2 55.6 81.4 54.0Q79.6 56.6 82.3 57.9M62.0 83.5Q61.8 86.3 64.6 85.0Q64.4 82.0 62.0 83.5M72.0 59.0Q74.2 59.9 74.5 57.4Q72.1 56.7 72.0 59.0M70.2 54.7Q73.0 53.8 71.3 51.2Q68.4 52.4 70.2 54.7M70.8 82.6Q69.9 79.9 67.5 81.8Q68.8 84.6 70.8 82.6M69.8 73.4Q71.2 71.6 69.2 69.9Q67.9 72.2 69.8 73.4M66.8 72.4Q68.8 70.7 66.4 69.3Q64.4 71.4 66.8 72.4M78.4 86.2Q79.8 83.9 77.1 83.1Q75.8 85.7 78.4 86.2M84.8 77.3Q84.8 79.9 87.7 80.0Q87.4 77.0 84.8 77.3M55.8 66.1Q53.4 67.2 55.7 68.9Q58.2 67.4 55.8 66.1M78.6 59.5Q79.3 57.4 76.9 57.1Q76.4 59.5 78.6 59.5M84.8 68.9Q83.7 66.9 81.5 68.2Q83.0 70.3 84.8 68.9M86.4 64.8Q84.2 63.0 83.5 66.0Q86.1 67.6 86.4 64.8M61.7 56.2Q63.1 53.9 60.3 53.8Q59.1 56.2 61.7 56.2M70.9 72.5Q71.7 70.3 69.1 70.3Q68.4 72.8 70.9 72.5M85.4 65.2Q82.8 64.1 82.6 67.1Q85.5 68.0 85.4 65.2M73.8 57.8Q74.6 59.9 76.7 58.6Q75.6 56.3 73.8 57.8M67.7 72.9Q68.9 74.9 70.5 73.0Q69.0 71.0 67.7 72.9M57.4 82.5Q56.4 85.0 59.3 85.4Q60.1 82.6 57.4 82.5M80.9 77.6Q79.4 79.4 81.6 80.5Q83.0 78.4 80.9 77.6M76.7 65.3Q78.7 63.2 76.2 61.4Q74.3 63.8 76.7 65.3M69.4 74.7Q72.2 75.1 71.9 72.1Q68.9 71.9 69.4 74.7M66.4 63.0Q64.0 64.6 66.4 66.6Q68.7 64.6 66.4 63.0M59.0 70.8Q61.3 72.0 61.2 69.3Q58.7 68.3 59.0 70.8M85.1 61.7Q83.6 59.7 82.2 61.9Q84.0 63.8 85.1 61.7M61.4 83.4Q62.2 81.3 59.8 81.0Q59.1 83.3 61.4 83.4M86.3 85.0Q88.3 86.6 89.6 84.1Q87.3 82.6 86.3 85.0M75.8 88.0Q77.6 86.5 75.9 84.5Q74.1 86.4 75.8 88.0M55.3 71.4Q53.0 71.9 54.5 73.9Q56.8 73.2 55.3 71.4M60.4 91.1Q62.9 92.0 63.2 89.2Q60.5 88.5 60.4 91.1M82.0 54.6Q83.7 55.7 84.5 53.6Q82.5 52.6 82.0 54.6M84.5 80.7Q86.6 82.0 87.6 79.5Q85.2 78.3 84.5 80.7M66.8 52.7Q68.2 50.7 65.8 49.9Q64.5 52.1 66.8 52.7M55.4 64.1Q58.1 64.8 58.3 61.8Q55.4 61.5 55.4 64.1M82.7 58.1Q80.5 56.9 79.3 59.4Q81.8 60.4 82.7 58.1M71.7 92.1Q72.6 94.1 74.6 92.8Q73.4 90.8 71.7 92.1M84.2 69.6Q85.8 67.6 83.4 66.0Q81.9 68.4 84.2 69.6M60.5 52.4Q59.3 54.8 62.1 55.5Q63.1 52.8 60.5 52.4M67.1 90.1Q66.1 92.4 68.7 92.3Q69.5 89.9 67.1 90.1M87.7 71.1Q89.8 71.9 90.1 69.5Q87.8 68.9 87.7 71.1M70.1 52.7Q72.3 54.2 73.2 51.5Q70.7 50.1 70.1 52.7M82.2 68.7Q84.8 67.7 82.7 65.7Q80.1 66.9 82.2 68.7M69.0 55.5Q71.1 56.9 71.3 54.2Q68.9 52.9 69.0 55.5M55.3 59.3Q55.0 57.1 52.6 57.2Q53.1 59.6 55.3 59.3M68.2 83.2Q66.6 85.3 68.9 87.0Q70.5 84.6 68.2 83.2M72.2 85.7Q69.3 86.9 71.4 89.4Q74.4 87.9 72.2 85.7M55.1 58.4Q57.0 60.0 57.8 57.5Q55.6 56.0 55.1 58.4M66.6 69.3Q66.0 66.7 63.7 68.3Q64.5 71.1 66.6 69.3M75.0 90.2Q76.8 88.9 75.1 87.0Q73.3 88.7 75.0 90.2M75.2 68.4Q76.1 65.7 73.1 66.3Q72.5 69.2 75.2 68.4M58.4 74.7Q56.3 73.6 54.7 75.7Q57.2 76.8 58.4 74.7M61.2 92.5Q59.2 94.7 62.1 96.2Q64.1 93.6 61.2 92.5M75.1 76.1Q73.4 73.8 71.8 76.5Q73.9 78.7 75.1 76.1M63.5 65.0Q62.5 67.2 65.1 67.6Q66.0 65.2 63.5 65.0M63.7 61.4Q65.7 59.8 63.8 57.7Q61.7 59.6 63.7 61.4M70.8 78.9Q71.0 76.7 68.7 77.2Q68.7 79.5 70.8 78.9M79.0 67.0Q80.3 64.5 77.3 64.4Q76.2 67.2 79.0 67.0M81.1 87.9Q81.2 85.0 78.0 85.4Q78.2 88.6 81.1 87.9M65.5 83.9Q68.2 84.5 68.4 81.4Q65.4 81.0 65.5 83.9M67.4 91.3Q65.2 91.0 64.6 93.4Q67.1 93.6 67.4 91.3M54.5 58.9Q53.7 56.2 51.7 58.5Q52.9 61.3 54.5 58.9M72.9 78.8Q74.0 81.6 76.4 79.5Q74.9 76.6 72.9 78.8M69.1 79.2Q66.7 80.5 68.4 83.0Q70.9 81.2 69.1 79.2M81.6 65.2Q83.9 65.8 84.0 63.2Q81.5 62.8 81.6 65.2M83.3 76.0Q82.5 73.3 79.8 74.7Q80.9 77.6 83.3 76.0M67.5 71.7Q65.7 69.4 64.5 72.2Q66.5 74.4 67.5 71.7M62.8 83.4Q62.2 85.8 64.9 85.9Q65.2 83.2 62.8 83.4M61.3 56.5Q61.1 59.3 64.2 59.1Q64.1 56.1 61.3 56.5M60.9 59.9Q62.0 57.4 59.1 56.8Q58.2 59.5 60.9 59.9M82.8 81.4Q82.5 79.0 80.3 80.2Q80.7 82.8 82.8 81.4M48.5 56.6Q46.2 55.1 44.6 57.7Q47.3 59.0 48.5 56.6M75.5 58.6Q76.3 60.8 78.5 59.6Q77.5 57.3 75.5 58.6M64.8 75.1Q62.8 76.4 64.6 78.2Q66.7 76.6 64.8 75.1M87.3 52.3Q89.0 54.4 90.5 52.0Q88.5 49.9 87.3 52.3M54.8 67.3Q52.7 65.4 51.3 68.0Q53.7 69.8 54.8 67.3M73.6 89.9Q71.8 88.1 70.4 90.6Q72.6 92.3 73.6 89.9M74.3 72.7Q71.6 72.9 73.2 75.3Q76.0 74.8 74.3 72.7M76.4 62.3Q77.5 64.4 80.0 63.4Q78.5 61.2 76.4 62.3M76.2 87.4Q77.4 85.6 75.3 84.6Q74.3 86.6 76.2 87.4M69.0 50.2Q71.1 50.0 70.3 47.9Q68.1 48.3 69.0 50.2M48.2 61.0Q50.4 59.8 49.3 57.3Q47.0 58.8 48.2 61.0M83.8 58.0Q85.7 59.9 87.6 57.7Q85.3 55.8 83.8 58.0M83.9 83.7Q86.5 83.0 84.9 80.5Q82.2 81.6 83.9 83.7M82.3 67.6Q80.4 69.2 82.5 70.7Q84.4 68.8 82.3 67.6M58.5 74.5Q61.1 74.7 61.4 71.9Q58.5 72.0 58.5 74.5M62.3 70.9Q64.4 70.2 63.2 68.0Q61.0 69.1 62.3 70.9M83.9 71.7Q83.9 68.8 81.2 70.3Q81.4 73.4 83.9 71.7M66.2 86.8Q63.5 88.4 65.9 90.7Q68.7 88.8 66.2 86.8M79.2 53.8Q78.3 56.4 81.2 55.9Q81.9 53.0 79.2 53.8M78.6 68.7Q80.4 67.2 78.4 65.8Q76.6 67.5 78.6 68.7M78.0 56.1Q78.4 53.8 75.9 54.3Q75.7 56.8 78.0 56.1M56.8 79.1Q55.8 76.5 53.3 78.1Q54.6 80.7 56.8 79.1M82.6 76.3Q85.0 76.8 84.5 74.2Q81.9 74.0 82.6 76.3M86.5 69.5Q89.3 69.9 88.8 66.9Q85.7 66.7 86.5 69.5M76.7 82.7Q74.4 82.9 74.7 85.4Q77.2 84.9 76.7 82.7M69.7 51.2Q67.3 50.9 67.5 53.5Q70.1 53.6 69.7 51.2" fill="#ffffff" fill-opacity="0.8" stroke="#7a7a7a" stroke-width="0.5"/>
<path d="M62.6 46.0 C61.6 54.0 60.8 62.0 60.6 72.0 C60.5 82.0 62.0 92.0 64.0 100.0 C64.6 103.0 64.4 106.0 63.5 108.0 L86.0 108.0 C80.0 105.0 75.5 100.0 72.5 94.0 C69.5 87.0 67.8 78.0 67.8 70.0 C67.8 62.0 68.4 54.0 69.4 46.0 Z" fill="#f1f1f1" stroke="#666" stroke-width="0.6"/>
<path d="M66.6 48.0 C66.0 58.0 65.6 66.0 65.8 74.0 C66.0 84.0 67.6 92.0 70.5 98.0 C68.0 92.0 67.6 82.0 67.6 72.0 C67.6 62.0 68.2 54.0 69.2 47.0 Z" fill="#a9a9a9"/>
<path d="M60.9 50.0q1.6 0.9 3.2 0.4M61.0 52.3q1.6 0.9 3.2 0.4M61.1 54.6q1.6 0.9 3.2 0.4M61.2 56.9q1.6 0.9 3.2 0.4M61.4 59.2q1.6 0.9 3.2 0.4M61.5 61.5q1.6 0.9 3.2 0.4M61.6 63.8q1.6 0.9 3.2 0.4M61.7 66.1q1.6 0.9 3.2 0.4M61.8 68.4q1.6 0.9 3.2 0.4M61.9 70.7q1.6 0.9 3.2 0.4M62.0 73.0q1.6 0.9 3.2 0.4M62.1 75.3q1.6 0.9 3.2 0.4M62.2 77.6q1.6 0.9 3.2 0.4M62.2 79.9q1.6 0.9 3.2 0.4M62.3 82.2q1.6 0.9 3.2 0.4M62.3 84.5q1.6 0.9 3.2 0.4M62.3 86.8q1.6 0.9 3.2 0.4M62.3 89.1q1.6 0.9 3.2 0.4M62.3 91.4q1.6 0.9 3.2 0.4M62.2 93.7q1.6 0.9 3.2 0.4M62.2 96.0q1.6 0.9 3.2 0.4M62.1 98.3q1.6 0.9 3.2 0.4M62.0 100.6q1.6 0.9 3.2 0.4M61.9 102.9q1.6 0.9 3.2 0.4" fill="none" stroke="#8a8a8a" stroke-width="0.4"/>
<path d="M68.6 88.0 C70.0 96.0 75.0 103.0 86.0 107.6 L67.0 108.0 C67.6 102.0 68.0 95.0 68.6 88.0 Z" fill="#6e6e6e" stroke="#4a4a4a" stroke-width="0.4"/>
<path d="M69.5 96.0 C71.0 93.5 75.0 93.5 77.0 96.0 C78.0 98.5 76.0 101.0 73.0 101.0 C70.5 101.0 69.0 98.5 69.5 96.0 Z" fill="#dadada" stroke="#777" stroke-width="0.4"/>
<path d="M88.6 55.4 C86.6 56.4 85.6 58.6 85.8 61.5 C86.4 68.0 87.6 76.0 88.4 84.0 C89.0 92.0 89.4 100.0 90.0 107.4 L100.4 107.4 C101.6 100.0 102.2 92.0 102.2 84.0 C102.2 75.0 101.2 66.0 98.6 60.0 C97.4 57.0 95.4 55.4 93.0 55.2 Z" fill="#ededed" stroke="#5e5e5e" stroke-width="0.6"/>
<path d="M95.4 56.6 C98.6 60.0 100.8 68.0 101.8 77.0 C102.4 86.0 102.0 97.0 100.4 107.2 L96.6 107.2 C97.6 98.0 97.8 90.0 97.2 82.0 C96.6 72.0 95.8 64.0 95.4 56.6 Z" fill="#858585"/>
<path d="M95.8 58.0l5.6 1.6M95.8 59.9l5.6 1.6M95.8 61.8l5.6 1.6M95.8 63.7l5.6 1.6M95.8 65.6l5.6 1.6M95.8 67.5l5.6 1.6M95.8 69.4l5.6 1.6M95.8 71.3l5.6 1.6M95.8 73.2l5.6 1.6M95.8 75.1l5.6 1.6M95.8 77.0l5.6 1.6M95.8 78.9l5.6 1.6M95.8 80.8l5.6 1.6M95.8 82.7l5.6 1.6M95.8 84.6l5.6 1.6M95.8 86.5l5.6 1.6M95.8 88.4l5.6 1.6M95.8 90.3l5.6 1.6M95.8 92.2l5.6 1.6M95.8 94.1l5.6 1.6M95.8 96.0l5.6 1.6M95.8 97.9l5.6 1.6M95.8 99.8l5.6 1.6M95.8 101.7l5.6 1.6M95.8 103.6l5.6 1.6M95.8 105.5l5.6 1.6" fill="none" stroke="#4a4a4a" stroke-width="0.4"/>
<path d="M88.2 64.0q3 1.8 6.5 0.6M88.3 68.6q3 1.8 6.5 0.6M88.4 73.2q3 1.8 6.5 0.6M88.5 77.8q3 1.8 6.5 0.6M88.6 82.4q3 1.8 6.5 0.6M88.7 87.0q3 1.8 6.5 0.6M88.8 91.6q3 1.8 6.5 0.6M88.9 96.2q3 1.8 6.5 0.6M89.0 100.8q3 1.8 6.5 0.6" fill="none" stroke="#7d7d7d" stroke-width="0.45"/>
<path d="M91.6 90.0 L93.4 107.4 L95.4 107.4 L94.6 90.0 Z" fill="#f6f6f6" stroke="#6a6a6a" stroke-width="0.5"/>
<ellipse cx="91.4" cy="51.6" rx="2.5" ry="2.9" fill="#e2e2e2" stroke="#555" stroke-width="0.6"/>
<path d="M88.4 50.2 C89.6 47.6 93.4 47.4 94.6 50.0 C92.6 49.4 90.4 49.4 88.4 50.2 Z" fill="#777" stroke="#555" stroke-width="0.4"/>
<path d="M87.4 63.0 L88.2 107.6 M87.2 59.5 C84.6 59.6 82.4 58.6 80.4 56.4 M86.4 62.4 C84.0 63.4 82.4 65.6 81.6 68.0" fill="none" stroke="#666" stroke-width="0.7" stroke-linecap="round"/>
<path d="M11.4 52.2 C22.0 48.2 38.0 48.0 51.2 50.6 L52.0 57.6 C38.0 55.0 24.0 55.2 13.0 59.4 Z" fill="#e4e4e4" stroke="#555" stroke-width="0.8"/>
<path d="M12.6 59.0 C8.4 60.4 6.4 63.6 8.6 66.6 C11.4 70.0 18.6 67.6 18.6 71.6 C18.6 76.0 10.4 74.6 8.4 78.6 C7.4 80.8 9.4 82.4 11.0 80.6 M11.6 52.6 C8.0 54.6 7.0 58.4 9.4 61.0 M51.6 57.0 C46.0 57.4 41.0 59.4 37.0 62.0 C33.0 64.6 28.6 63.6 25.4 61.4 M36.6 62.4 C39.0 67.0 44.0 71.4 47.6 69.6 C50.0 68.4 49.4 65.4 46.6 66.0 M44.0 58.6 C47.0 60.6 50.0 63.0 52.6 62.0" fill="none" stroke="#6b6b6b" stroke-width="3.0" stroke-linecap="round" stroke-linejoin="round"/>
<path d="M12.6 59.0 C8.4 60.4 6.4 63.6 8.6 66.6 C11.4 70.0 18.6 67.6 18.6 71.6 C18.6 76.0 10.4 74.6 8.4 78.6 C7.4 80.8 9.4 82.4 11.0 80.6 M11.6 52.6 C8.0 54.6 7.0 58.4 9.4 61.0 M51.6 57.0 C46.0 57.4 41.0 59.4 37.0 62.0 C33.0 64.6 28.6 63.6 25.4 61.4 M36.6 62.4 C39.0 67.0 44.0 71.4 47.6 69.6 C50.0 68.4 49.4 65.4 46.6 66.0 M44.0 58.6 C47.0 60.6 50.0 63.0 52.6 62.0" fill="none" stroke="#d2d2d2" stroke-width="1.7" stroke-linecap="round" stroke-linejoin="round"/>
<text x="14.4" y="55.6" font-family="'Liberation Serif','DejaVu Serif',serif" font-size="5" font-weight="bold" fill="#4a4a4a" textLength="33" lengthAdjust="spacingAndGlyphs" transform="rotate(-1.5 30.0 53.0)">NON SOLUS</text>
<path d="M41.2 101.0Q40.0 99.5 37.8 99.9Q39.3 101.4 41.2 101.0M34.9 94.0Q36.7 93.7 36.2 91.6Q34.2 92.2 34.9 94.0M35.2 86.8Q34.7 84.8 32.4 85.1Q33.2 87.3 35.2 86.8M32.8 90.2Q34.5 89.0 33.6 86.8Q31.8 88.3 32.8 90.2M32.8 95.5Q34.6 95.4 34.9 93.4Q32.9 93.7 32.8 95.5M35.8 101.5Q37.5 101.4 37.9 99.6Q36.1 99.8 35.8 101.5M35.7 91.0Q37.4 90.1 37.2 87.8Q35.3 89.1 35.7 91.0M35.1 106.5Q36.0 104.4 33.9 102.9Q33.1 105.4 35.1 106.5M32.9 88.5Q35.0 88.2 34.7 85.8Q32.4 86.4 32.9 88.5M35.4 96.1Q36.0 94.6 34.6 93.4Q34.1 95.1 35.4 96.1M37.3 100.0Q37.3 98.4 35.4 98.3Q35.7 100.1 37.3 100.0M37.1 89.6Q39.1 89.9 39.3 87.7Q37.1 87.6 37.1 89.6M37.3 88.2Q36.8 86.3 34.6 86.7Q35.4 88.8 37.3 88.2M33.3 96.8Q35.2 96.1 34.9 93.9Q32.9 94.9 33.3 96.8M42.1 98.3Q41.1 96.7 39.2 97.7Q40.5 99.3 42.1 98.3M40.4 93.5Q42.3 93.0 41.6 90.9Q39.5 91.7 40.4 93.5M33.6 89.7Q35.6 90.1 36.3 87.9Q34.0 87.6 33.6 89.7M41.0 98.1Q42.8 97.6 42.6 95.5Q40.7 96.3 41.0 98.1M38.9 101.2Q39.5 99.3 37.5 98.7Q37.1 100.8 38.9 101.2M35.4 96.6Q34.4 95.0 32.3 95.3Q33.6 97.1 35.4 96.6M35.9 87.7Q37.0 86.4 36.0 84.9Q34.9 86.4 35.9 87.7M40.9 106.6Q42.2 105.2 40.7 103.7Q39.4 105.4 40.9 106.6M36.3 100.0Q37.9 100.4 38.2 98.5Q36.3 98.3 36.3 100.0M36.5 89.4Q38.7 89.3 38.8 86.9Q36.5 87.3 36.5 89.4M38.6 99.0Q40.3 100.0 41.4 98.1Q39.4 97.3 38.6 99.0M29.6 106.6Q28.7 105.0 26.8 105.9Q28.0 107.6 29.6 106.6M28.2 102.8Q28.0 101.0 26.0 101.0Q26.4 103.0 28.2 102.8M33.7 94.2Q35.0 93.1 34.3 91.3Q32.9 92.7 33.7 94.2M34.1 92.9Q35.2 91.6 33.9 90.2Q32.8 91.7 34.1 92.9M30.9 103.4Q30.2 101.4 27.9 102.2Q29.0 104.3 30.9 103.4M36.7 104.0Q37.9 102.1 36.2 100.3Q35.0 102.5 36.7 104.0M35.8 105.3Q37.2 103.8 35.7 102.1Q34.4 104.0 35.8 105.3M34.2 93.4Q36.0 94.2 36.5 92.1Q34.4 91.4 34.2 93.4M36.7 93.2Q38.2 92.3 37.9 90.2Q36.2 91.4 36.7 93.2M33.0 94.6Q34.6 93.3 33.6 91.2Q31.9 92.8 33.0 94.6M35.2 89.9Q36.4 88.5 34.6 87.5Q33.4 89.2 35.2 89.9M36.7 103.1Q35.3 101.5 33.1 102.1Q34.8 103.7 36.7 103.1M35.5 90.6Q35.5 88.4 33.0 87.8Q33.2 90.4 35.5 90.6M32.8 91.7Q34.4 92.3 35.6 90.9Q33.8 90.4 32.8 91.7M31.3 101.1Q33.2 102.1 34.6 100.2Q32.4 99.3 31.3 101.1M38.9 97.4Q38.2 95.9 36.5 96.3Q37.3 97.9 38.9 97.4M36.2 97.4Q35.9 95.8 34.0 95.7Q34.6 97.5 36.2 97.4M40.0 93.1Q41.5 92.6 41.2 90.9Q39.6 91.6 40.0 93.1M30.9 105.7Q33.1 105.8 33.7 103.3Q31.1 103.4 30.9 105.7M30.0 95.3Q31.3 94.0 29.9 92.6Q28.6 94.2 30.0 95.3M36.6 96.3Q38.0 95.5 37.3 93.9Q35.9 95.0 36.6 96.3M33.5 89.1Q32.4 87.5 30.3 88.4Q31.7 90.1 33.5 89.1M32.9 96.9Q32.8 94.8 30.4 94.8Q30.8 97.2 32.9 96.9M31.8 92.2Q32.1 90.6 30.3 90.0Q30.2 91.9 31.8 92.2M34.0 87.0Q36.1 87.3 36.7 84.9Q34.3 84.9 34.0 87.0M40.9 99.3Q41.9 97.7 40.2 96.5Q39.2 98.4 40.9 99.3M32.9 96.1Q34.6 96.7 36.1 95.2Q34.1 94.7 32.9 96.1M39.7 105.8Q41.7 104.9 40.7 102.7Q38.6 104.0 39.7 105.8M32.4 98.4Q31.2 96.9 29.2 97.8Q30.7 99.4 32.4 98.4M37.8 93.0Q38.4 91.1 36.3 90.7Q35.9 92.8 37.8 93.0M27.5 102.0Q27.3 100.0 25.2 100.6Q25.6 102.7 27.5 102.0M35.6 98.5Q37.6 97.8 36.9 95.6Q34.8 96.6 35.6 98.5M40.2 102.6Q40.2 100.9 38.4 100.9Q38.6 102.7 40.2 102.6M36.4 99.4Q38.2 99.9 38.6 97.9Q36.5 97.5 36.4 99.4M35.4 92.3Q37.2 93.0 38.9 91.6Q36.7 91.0 35.4 92.3M38.8 105.3Q40.5 106.2 41.9 104.5Q39.9 103.7 38.8 105.3M34.8 87.3Q37.0 87.0 37.3 84.5Q34.9 85.0 34.8 87.3M28.7 103.8Q30.2 102.6 29.5 100.6Q27.9 102.1 28.7 103.8M29.3 98.9Q29.3 97.2 27.6 96.5Q27.7 98.4 29.3 98.9M38.6 96.3Q38.6 94.6 36.7 93.8Q36.9 95.8 38.6 96.3M37.7 91.7Q39.8 92.0 40.9 89.9Q38.5 89.8 37.7 91.7M41.1 98.6Q41.4 96.4 39.1 95.4Q39.1 97.9 41.1 98.6M34.9 91.2Q34.9 89.7 33.2 89.5Q33.3 91.2 34.9 91.2M33.9 102.5Q32.9 100.9 30.7 101.0Q32.0 102.7 33.9 102.5M27.9 100.8Q27.3 99.1 25.4 99.6Q26.2 101.4 27.9 100.8M30.3 98.3Q32.0 97.3 31.5 95.1Q29.7 96.5 30.3 98.3M31.9 93.4Q33.9 92.8 33.6 90.5Q31.5 91.4 31.9 93.4M41.3 98.9Q43.0 97.9 42.2 95.7Q40.4 97.1 41.3 98.9M41.1 95.8Q42.0 94.6 40.8 93.2Q39.9 94.7 41.1 95.8M39.2 91.2Q41.0 91.6 41.8 89.7Q39.7 89.4 39.2 91.2M37.4 88.3Q39.6 88.3 39.8 85.8Q37.4 86.1 37.4 88.3M33.1 92.1Q33.1 90.3 31.2 90.6Q31.3 92.6 33.1 92.1M34.1 87.6Q36.0 87.2 36.6 85.0Q34.5 85.7 34.1 87.6M36.3 88.7Q37.5 87.3 36.4 85.6Q35.2 87.3 36.3 88.7M34.0 89.9Q35.9 89.0 35.5 86.8Q33.5 88.0 34.0 89.9" fill="#d4d4d4" stroke="#6a6a6a" stroke-width="0.5"/>
<path d="M10.0 108.0 C20.0 105.4 30.0 104.0 40.0 101.6 C50.0 99.0 58.0 99.0 64.0 102.0 C68.0 104.0 70.0 106.0 72.0 108.0 Z" fill="#e4e4e4" stroke="#999" stroke-width="0.4"/>
<path d="M11.0 108.0l1.8 -1.4M12.4 108.0l1.8 -1.4M13.8 108.0l1.8 -1.4M15.2 108.0l1.8 -1.4M16.6 108.0l1.8 -1.4M18.0 108.0l1.8 -1.4M19.4 108.0l1.8 -1.5M20.8 108.0l1.8 -1.5M22.2 108.0l1.8 -1.5M23.6 108.0l1.8 -1.6M25.0 108.0l1.8 -1.7M26.4 108.0l1.8 -1.8M27.8 108.0l1.8 -1.9M29.2 108.0l1.8 -2.1M30.6 108.0l1.8 -2.3M32.0 108.0l1.8 -2.5M33.4 108.0l1.8 -2.8M34.8 108.0l1.8 -3.0M36.2 108.0l1.8 -3.4M37.6 108.0l1.8 -3.7M39.0 108.0l1.8 -4.1M40.4 108.0l1.8 -4.5M41.8 108.0l1.8 -4.8M43.2 108.0l1.8 -5.1M44.6 108.0l1.8 -5.4M46.0 108.0l1.8 -5.7M47.4 108.0l1.8 -5.9M48.8 108.0l1.8 -6.0M50.2 108.0l1.8 -6.0M51.6 108.0l1.8 -5.9M53.0 108.0l1.8 -5.8M54.4 108.0l1.8 -5.6M55.8 108.0l1.8 -5.4M57.2 108.0l1.8 -5.1M58.6 108.0l1.8 -4.7M60.0 108.0l1.8 -4.3M61.4 108.0l1.8 -4.0M62.8 108.0l1.8 -3.6M64.2 108.0l1.8 -3.3M65.6 108.0l1.8 -3.0M67.0 108.0l1.8 -2.7M68.4 108.0l1.8 -2.4M69.8 108.0l1.8 -2.2M71.2 108.0l1.8 -2.0" fill="none" stroke="#808080" stroke-width="0.45"/>
<path d="M9.4 108.5l0.5 -2.3M75.8 108.5l-0.9 -1.7M40.2 108.5l-1.1 -1.0M20.9 108.5l0.7 -1.7M18.7 108.5l-0.8 -1.8M100.9 108.5l0.7 -5.1M111.6 108.5l-6.0 -4.5M89.7 108.5l-1.3 -1.0M47.0 108.5l-0.6 -1.4M95.6 108.5l-0.5 -1.8M24.1 108.5l0.1 -1.4M100.1 108.5l0.3 -8.5M118.0 108.5l0.1 -7.6M93.8 108.5l-0.9 -1.5M23.2 108.5l-1.1 -1.1M86.5 108.5l1.5 -1.3M113.4 108.5l-4.9 -5.0M87.5 108.5l1.0 -2.6M97.2 108.5l0.9 -1.6M84.9 108.5l0.5 -3.1M51.0 108.5l1.0 -1.9M47.7 108.5l-0.6 -2.0M85.7 108.5l0.2 -2.9M25.7 108.5l-1.5 -1.7M30.2 108.5l0.1 -1.4M39.8 108.5l0.3 -2.1M78.7 108.5l-0.8 -1.1M107.2 108.5l1.9 -2.8M40.6 108.5l-0.2 -2.3M114.1 108.5l5.9 -5.6M110.1 108.5l0.2 -3.2M44.3 108.5l-1.4 -1.2M60.7 108.5l-0.2 -2.2M78.9 108.5l-3.5 -3.2M119.1 108.5l-0.1 -5.3M68.6 108.5l0.6 -1.1M98.9 108.5l1.2 -1.8M94.0 108.5l-0.2 -1.2M14.9 108.5l1.7 -1.7M103.1 108.5l0.0 -1.9M105.8 108.5l-1.7 -6.8M103.7 108.5l0.6 -2.4M102.0 108.5l0.1 -2.6M93.5 108.5l0.8 -1.2M102.2 108.5l-5.9 -7.3M108.8 108.5l5.5 -4.3M104.1 108.5l3.7 -3.4M92.0 108.5l1.1 -1.4M66.6 108.5l1.5 -1.2M25.2 108.5l1.3 -1.3M43.8 108.5l0.8 -1.0M104.1 108.5l-6.9 -5.6M71.1 108.5l0.4 -1.8M97.3 108.5l1.6 -1.2M101.2 108.5l2.0 -4.0M106.5 108.5l2.1 -3.1M90.7 108.5l0.6 -1.4M46.5 108.5l1.0 -1.6M21.3 108.5l0.4 -2.4M36.7 108.5l0.4 -2.1M64.7 108.5l-1.2 -1.1M91.4 108.5l0.9 -1.4M10.7 108.5l1.1 -1.0M24.0 108.5l0.5 -2.4M11.4 108.5l0.5 -1.5M74.0 108.5l0.8 -5.0M64.2 108.5l1.6 -1.7M70.1 108.5l-1.3 -1.0M10.8 108.5l1.3 -1.5M71.5 108.5l-1.1 -2.0M106.9 108.5l3.4 -5.8M68.7 108.5l-0.9 -0.9M44.7 108.5l-0.3 -1.8M56.6 108.5l0.5 -1.2M96.0 108.5l0.9 -1.5M58.9 108.5l-1.8 -1.5M22.1 108.5l0.3 -1.2M115.8 108.5l-5.0 -6.8M16.7 108.5l0.2 -1.4M9.1 108.5l-0.2 -1.3M118.2 108.5l-1.8 -2.6M40.0 108.5l1.2 -1.0M56.3 108.5l-0.8 -1.0M10.3 108.5l0.5 -1.6M38.7 108.5l-0.9 -1.2M21.5 108.5l0.2 -1.7M65.3 108.5l-0.8 -2.2M27.2 108.5l-0.7 -2.2M104.1 108.5l-4.8 -5.6M37.1 108.5l-1.3 -1.6M20.8 108.5l-1.6 -1.5M94.0 108.5l1.4 -1.6M36.2 108.5l-1.4 -1.8M21.7 108.5l-0.6 -2.3M18.6 108.5l-1.8 -1.5M60.4 108.5l-1.0 -1.6M17.1 108.5l-1.3 -0.9M74.4 108.5l1.5 -1.6M15.8 108.5l-1.0 -2.1M99.8 108.5l-0.2 -1.2M111.0 108.5l-5.8 -5.7M79.8 108.5l-1.0 -1.3M33.1 108.5l0.5 -1.5M57.8 108.5l-0.9 -1.7M64.0 108.5l-0.0 -2.2M85.2 108.5l-3.1 -3.7M20.5 108.5l0.5 -1.1M67.2 108.5l1.4 -1.1M57.4 108.5l-0.0 -1.6M91.4 108.5l0.7 -2.2M33.6 108.5l0.3 -1.5M46.5 108.5l0.2 -1.4M50.4 108.5l0.1 -1.6M99.8 108.5l-0.8 -2.0M61.1 108.5l0.4 -1.6M39.9 108.5l-1.6 -1.6M109.6 108.5l-0.2 -2.3M55.6 108.5l-0.4 -1.6M69.4 108.5l-0.5 -1.9M20.7 108.5l-1.0 -2.1M19.3 108.5l0.6 -2.1M50.2 108.5l0.1 -1.9M58.9 108.5l0.1 -1.6M26.7 108.5l0.9 -1.1M58.1 108.5l-0.9 -1.1M112.2 108.5l0.5 -2.7M52.7 108.5l-0.6 -1.7M13.4 108.5l0.5 -1.6M47.0 108.5l0.9 -1.1M67.1 108.5l-1.0 -0.8M12.9 108.5l-0.5 -2.0M75.6 108.5l-0.5 -1.2M65.1 108.5l0.2 -2.5M116.5 108.5l-2.2 -6.0M76.5 108.5l3.4 -4.2M83.2 108.5l-0.5 -1.3M67.3 108.5l-1.3 -1.6M101.5 108.5l-0.6 -1.9M112.5 108.5l-1.6 -8.0M29.1 108.5l1.0 -0.9M16.9 108.5l-0.2 -1.9M86.9 108.5l0.6 -4.1M10.3 108.5l1.3 -1.2M115.3 108.5l-2.0 -3.5M82.9 108.5l0.5 -2.9M94.6 108.5l0.8 -1.0M31.9 108.5l1.2 -0.9M87.7 108.5l-2.8 -2.6M76.2 108.5l-0.6 -1.4M14.6 108.5l-1.1 -2.0" fill="none" stroke="#5e5e5e" stroke-width="0.6"/>
<path d="M106.9 106.4Q108.5 105.8 107.8 104.1Q106.1 104.9 106.9 106.4M104.5 101.9Q106.7 101.6 107.1 99.2Q104.7 99.7 104.5 101.9M114.0 98.4Q113.9 96.8 112.1 96.8Q112.4 98.5 114.0 98.4M106.0 104.7Q105.4 102.8 103.3 103.2Q104.1 105.2 106.0 104.7M107.8 102.3Q107.9 100.1 105.4 99.5Q105.6 102.0 107.8 102.3M103.6 105.6Q104.7 104.4 103.7 102.9Q102.5 104.4 103.6 105.6M112.2 103.9Q113.9 103.3 113.7 101.2Q111.9 102.1 112.2 103.9M108.5 98.6Q110.1 98.8 110.6 97.0Q108.8 97.0 108.5 98.6M108.7 100.8Q110.1 99.5 109.0 97.6Q107.6 99.2 108.7 100.8M114.8 98.4Q114.6 96.2 112.1 96.0Q112.6 98.5 114.8 98.4M114.0 101.2Q115.4 100.0 113.9 98.7Q112.5 100.1 114.0 101.2M108.4 104.5Q110.1 105.6 112.1 104.5Q110.1 103.4 108.4 104.5M111.2 107.3Q110.5 105.6 108.8 106.6Q109.7 108.3 111.2 107.3M119.2 105.5Q119.0 103.5 116.7 103.1Q117.2 105.4 119.2 105.5M121.9 98.1Q123.8 98.4 124.8 96.4Q122.6 96.3 121.9 98.1M121.9 103.0Q123.4 104.1 124.7 102.5Q122.9 101.5 121.9 103.0M120.2 98.5Q118.5 97.2 116.4 98.5Q118.5 99.8 120.2 98.5M119.8 107.1Q121.5 107.5 122.3 105.7Q120.4 105.4 119.8 107.1M112.1 98.8Q112.1 96.9 110.1 96.1Q110.3 98.3 112.1 98.8M109.7 100.7Q110.7 99.3 109.5 97.6Q108.5 99.4 109.7 100.7M106.5 103.3Q108.2 103.4 108.9 101.5Q106.9 101.7 106.5 103.3M113.7 107.2Q115.4 106.7 115.2 104.7Q113.4 105.5 113.7 107.2M118.8 103.1Q117.7 101.7 116.1 102.9Q117.5 104.3 118.8 103.1M119.4 104.3Q120.4 102.8 118.7 101.7Q117.8 103.5 119.4 104.3M118.3 104.2Q118.7 102.6 117.0 101.8Q116.7 103.6 118.3 104.2M110.2 106.3Q112.1 106.4 113.1 104.4Q110.8 104.5 110.2 106.3M111.0 100.0Q110.3 98.4 108.6 99.3Q109.6 101.0 111.0 100.0M103.5 102.4Q104.2 100.9 102.6 100.1Q102.0 101.8 103.5 102.4M117.4 97.1Q117.5 94.9 115.1 94.7Q115.2 97.1 117.4 97.1M118.9 97.5Q120.9 97.9 121.4 95.7Q119.2 95.5 118.9 97.5M108.4 105.9Q110.2 105.6 109.8 103.7Q107.9 104.1 108.4 105.9M110.6 102.3Q112.4 103.0 113.9 101.4Q111.8 100.8 110.6 102.3M120.7 100.2Q121.1 98.1 118.7 97.7Q118.6 100.0 120.7 100.2M115.4 101.7Q114.0 100.1 111.7 101.0Q113.5 102.7 115.4 101.7M116.1 99.5Q117.7 99.2 117.9 97.3Q116.1 97.8 116.1 99.5M119.6 102.1Q120.7 101.1 119.9 99.6Q118.7 100.9 119.6 102.1M107.4 101.3Q108.3 99.6 106.6 98.3Q105.8 100.2 107.4 101.3" fill="#a8a8a8" stroke="#555" stroke-width="0.5"/>
<rect x="7.2" y="107.9" width="113" height="1.6" fill="#4c4c4c"/>
</svg>
<div class="g" style="left:6.1px;top:163.3px;font:25.8px/28px 'Liberation Serif','DejaVu Serif',serif;color:#d5820f;letter-spacing:-0.7px;-webkit-text-stroke:0.25px #d5820f;">ELSEVIER</div>

<div><span class="t" style='left:365.20px;top:3.00px;font:13.01px/16px "DejaVu Serif", "Liberation Serif", serif;color:#0f80bb;-webkit-text-stroke:0.35px currentColor;transform:scaleX(0.9956);'>Journal </span><span class="t" style='left:417.52px;top:3.00px;font:13.01px/16px "DejaVu Serif", "Liberation Serif", serif;color:#0f80bb;-webkit-text-stroke:0.35px currentColor;transform:scaleX(0.9767);'>of </span><span class="t" style='left:434.49px;top:3.00px;font:13.01px/16px "DejaVu Serif", "Liberation Serif", serif;color:#0f80bb;-webkit-text-stroke:0.35px currentColor;transform:scaleX(0.9226);'>Cleaner </span><span class="t" style='left:486.95px;top:3.00px;font:13.01px/16px "DejaVu Serif", "Liberation Serif", serif;color:#0f80bb;-webkit-text-stroke:0.35px currentColor;transform:scaleX(0.9543);'>Production </span><span class="t" style='left:560.63px;top:3.00px;font:13.01px/16px "DejaVu Serif", "Liberation Serif", serif;color:#0f80bb;-webkit-text-stroke:0.35px currentColor;transform:scaleX(0.9653);'>437 </span><span class="t" style='left:589.22px;top:3.00px;font:13.01px/16px "DejaVu Serif", "Liberation Serif", serif;color:#0f80bb;-webkit-text-stroke:0.35px currentColor;transform:scaleX(0.9858);'>(2024) </span><span class="t" style='left:636.47px;top:3.00px;font:13.01px/16px "DejaVu Serif", "Liberation Serif", serif;color:#0f80bb;-webkit-text-stroke:0.35px currentColor;transform:scaleX(0.9655);'>140783</span></div>
<div><span class="t" style='left:386.60px;top:55.00px;font:14.52px/18px "DejaVu Serif", "Liberation Serif", serif;color:#000;-webkit-text-stroke:0.4px currentColor;transform:scaleX(0.9278);'>Contents </span><span class="t" style='left:453.24px;top:55.00px;font:14.52px/18px "DejaVu Serif", "Liberation Serif", serif;color:#000;-webkit-text-stroke:0.4px currentColor;transform:scaleX(0.9174);'>lists </span><span class="t" style='left:485.97px;top:55.00px;font:14.52px/18px "DejaVu Serif", "Liberation Serif", serif;color:#000;-webkit-text-stroke:0.4px currentColor;transform:scaleX(0.9616);'>available </span><span class="t" style='left:554.59px;top:55.00px;font:14.52px/18px "DejaVu Serif", "Liberation Serif", serif;color:#000;-webkit-text-stroke:0.4px currentColor;transform:scaleX(0.9290);'>at </span><span class="t" style='left:573.24px;top:55.00px;font:14.52px/18px "DejaVu Serif", "Liberation Serif", serif;color:#2197db;-webkit-text-stroke:0.25px currentColor;transform:scaleX(0.9215);'>ScienceDirect</span></div>
<div><span class="t" style='left:339.80px;top:99.00px;font:25.56px/32px "DejaVu Serif", "Liberation Serif", serif;color:#000;-webkit-text-stroke:0.42px currentColor;transform:scaleX(0.9974);'>Journal </span><span class="t" style='left:442.82px;top:99.00px;font:25.56px/32px "DejaVu Serif", "Liberation Serif", serif;color:#000;-webkit-text-stroke:0.42px currentColor;transform:scaleX(0.9785);'>of </span><span class="t" style='left:476.24px;top:99.00px;font:25.56px/32px "DejaVu Serif", "Liberation Serif", serif;color:#000;-webkit-text-stroke:0.42px currentColor;transform:scaleX(0.9246);'>Cleaner </span><span class="t" style='left:579.53px;top:99.00px;font:25.56px/32px "DejaVu Serif", "Liberation Serif", serif;color:#000;-webkit-text-stroke:0.42px currentColor;transform:scaleX(0.9564);'>Production</span></div>
<div><span class="t" style='left:331.10px;top:166.00px;font:15.20px/19px "DejaVu Sans", "Liberation Sans", sans-serif;color:#000;-webkit-text-stroke:0.45px currentColor;transform:scaleX(1.0176);'>journal </span><span class="t" style='left:389.30px;top:166.00px;font:15.20px/19px "DejaVu Sans", "Liberation Sans", sans-serif;color:#000;-webkit-text-stroke:0.45px currentColor;transform:scaleX(0.9836);'>homepage: </span><span class="t" style='left:479.40px;top:166.00px;font:15.20px/19px "DejaVu Sans", "Liberation Sans", sans-serif;color:#2197db;-webkit-text-stroke:0.25px currentColor;transform:scaleX(1.0022);'>www.elsevier.com/locate/jclepro</span></div>
<div><span class="t" style='left:6.20px;top:224.00px;font:17.30px/22px "DejaVu Serif", "Liberation Serif", serif;color:#000;-webkit-text-stroke:0.4px currentColor;transform:scaleX(0.9723);'>Review</span></div>
<div><span class="t" style='left:6.20px;top:261.00px;font:24.59px/31px "DejaVu Serif", "Liberation Serif", serif;color:#000;-webkit-text-stroke:0.42px currentColor;transform:scaleX(0.9480);'>Advances </span><span class="t" style='left:127.55px;top:261.00px;font:24.59px/31px "DejaVu Serif", "Liberation Serif", serif;color:#000;-webkit-text-stroke:0.42px currentColor;transform:scaleX(0.9520);'>and </span><span class="t" style='left:180.30px;top:261.00px;font:24.59px/31px "DejaVu Serif", "Liberation Serif", serif;color:#000;-webkit-text-stroke:0.42px currentColor;transform:scaleX(0.9225);'>perspectives </span><span class="t" style='left:334.32px;top:261.00px;font:24.59px/31px "DejaVu Serif", "Liberation Serif", serif;color:#000;-webkit-text-stroke:0.42px currentColor;transform:scaleX(0.9729);'>on </span><span class="t" style='left:372.88px;top:261.00px;font:24.59px/31px "DejaVu Serif", "Liberation Serif", serif;color:#000;-webkit-text-stroke:0.42px currentColor;transform:scaleX(0.9359);'>the </span><span class="t" style='left:419.32px;top:261.00px;font:24.59px/31px "DejaVu Serif", "Liberation Serif", serif;color:#000;-webkit-text-stroke:0.42px currentColor;transform:scaleX(0.9590);'>life-cycle </span><span class="t" style='left:535.00px;top:261.00px;font:24.59px/31px "DejaVu Serif", "Liberation Serif", serif;color:#000;-webkit-text-stroke:0.42px currentColor;transform:scaleX(0.9533);'>impact </span><span class="t" style='left:624.97px;top:261.00px;font:24.59px/31px "DejaVu Serif", "Liberation Serif", serif;color:#000;-webkit-text-stroke:0.42px currentColor;transform:scaleX(0.9064);'>assessment </span><span class="t" style='left:763.54px;top:261.00px;font:24.59px/31px "DejaVu Serif", "Liberation Serif", serif;color:#000;-webkit-text-stroke:0.42px currentColor;transform:scaleX(0.9767);'>of </span><span class="t" style='left:795.64px;top:261.00px;font:24.59px/31px "DejaVu Serif", "Liberation Serif", serif;color:#000;-webkit-text-stroke:0.42px currentColor;transform:scaleX(0.9347);'>personal</span></div>
<div><span class="t" style='left:6.20px;top:296.00px;font:24.59px/31px "DejaVu Serif", "Liberation Serif", serif;color:#000;-webkit-text-stroke:0.42px currentColor;transform:scaleX(0.9455);'>protective </span><span class="t" style='left:134.71px;top:296.00px;font:24.59px/31px "DejaVu Serif", "Liberation Serif", serif;color:#000;-webkit-text-stroke:0.42px currentColor;transform:scaleX(0.9520);'>equipment </span><span class="t" style='left:270.34px;top:296.00px;font:24.59px/31px "DejaVu Serif", "Liberation Serif", serif;color:#000;-webkit-text-stroke:0.42px currentColor;transform:scaleX(0.9873);'>in </span><span class="t" style='left:302.52px;top:296.00px;font:24.59px/31px "DejaVu Serif", "Liberation Serif", serif;color:#000;-webkit-text-stroke:0.42px currentColor;transform:scaleX(0.9380);'>the </span><span class="t" style='left:349.06px;top:296.00px;font:24.59px/31px "DejaVu Serif", "Liberation Serif", serif;color:#000;-webkit-text-stroke:0.42px currentColor;transform:scaleX(0.9570);'>post-COVID-19 </span><span class="t" style='left:536.84px;top:296.00px;font:24.59px/31px "DejaVu Serif", "Liberation Serif", serif;color:#000;-webkit-text-stroke:0.42px currentColor;transform:scaleX(0.9541);'>pandemic</span></div>
<div><span class="t" style='left:6.40px;top:351.00px;font:19.25px/24px "DejaVu Serif", "Liberation Serif", serif;color:#000;-webkit-text-stroke:0.37px currentColor;transform:scaleX(0.9281);'>Fangang </span><span class="t" style='left:91.61px;top:351.00px;font:19.25px/24px "DejaVu Serif", "Liberation Serif", serif;color:#000;-webkit-text-stroke:0.37px currentColor;transform:scaleX(0.9129);'>Zeng</span></div>
<span class="t" style='left:141.17px;top:345.80px;font:14.53px/18px "DejaVu Serif", "Liberation Serif", serif;color:#2197db;-webkit-text-stroke:0.2px currentColor;transform:scaleX(0.9200);'>a</span>
<span class="t" style='left:149.60px;top:351.00px;font:19.25px/24px "DejaVu Serif", "Liberation Serif", serif;color:#000;-webkit-text-stroke:0.37px currentColor;'>,</span>
<div><span class="t" style='left:162.60px;top:351.00px;font:19.25px/24px "DejaVu Serif", "Liberation Serif", serif;color:#000;-webkit-text-stroke:0.37px currentColor;transform:scaleX(0.9582);'>Di </span><span class="t" style='left:190.04px;top:351.00px;font:19.25px/24px "DejaVu Serif", "Liberation Serif", serif;color:#000;-webkit-text-stroke:0.37px currentColor;transform:scaleX(0.9270);'>Liu</span></div>
<span class="t" style='left:223.57px;top:345.80px;font:14.53px/18px "DejaVu Serif", "Liberation Serif", serif;color:#2197db;-webkit-text-stroke:0.2px currentColor;transform:scaleX(0.9200);'>b</span>
<span class="t" style='left:232.40px;top:351.00px;font:19.25px/24px "DejaVu Serif", "Liberation Serif", serif;color:#000;-webkit-text-stroke:0.37px currentColor;'>,</span>
<div><span class="t" style='left:246.00px;top:351.00px;font:19.25px/24px "DejaVu Serif", "Liberation Serif", serif;color:#000;-webkit-text-stroke:0.37px currentColor;transform:scaleX(0.9174);'>Can </span><span class="t" style='left:288.20px;top:351.00px;font:19.25px/24px "DejaVu Serif", "Liberation Serif", serif;color:#000;-webkit-text-stroke:0.37px currentColor;transform:scaleX(0.9641);'>Xiao</span></div>
<span class="t" style='left:333.72px;top:345.80px;font:14.53px/18px "DejaVu Serif", "Liberation Serif", serif;color:#2197db;-webkit-text-stroke:0.2px currentColor;transform:scaleX(0.9200);'>b</span>
<span class="t" style='left:342.30px;top:351.00px;font:19.25px/24px "DejaVu Serif", "Liberation Serif", serif;color:#000;-webkit-text-stroke:0.37px currentColor;'>,</span>
<div><span class="t" style='left:355.40px;top:351.00px;font:19.25px/24px "DejaVu Serif", "Liberation Serif", serif;color:#000;-webkit-text-stroke:0.37px currentColor;transform:scaleX(0.9525);'>Kuntai </span><span class="t" style='left:423.29px;top:351.00px;font:19.25px/24px "DejaVu Serif", "Liberation Serif", serif;color:#000;-webkit-text-stroke:0.37px currentColor;transform:scaleX(0.9187);'>Li</span></div>
<span class="t" style='left:445.07px;top:345.80px;font:14.53px/18px "DejaVu Serif", "Liberation Serif", serif;color:#2197db;-webkit-text-stroke:0.2px currentColor;transform:scaleX(0.9200);'>a</span>
<span class="t" style='left:453.50px;top:351.00px;font:19.25px/24px "DejaVu Serif", "Liberation Serif", serif;color:#000;-webkit-text-stroke:0.37px currentColor;'>,</span>
<div><span class="t" style='left:466.00px;top:351.00px;font:19.25px/24px "DejaVu Serif", "Liberation Serif", serif;color:#000;-webkit-text-stroke:0.37px currentColor;transform:scaleX(0.9681);'>Xuelin </span><span class="t" style='left:533.10px;top:351.00px;font:19.25px/24px "DejaVu Serif", "Liberation Serif", serif;color:#000;-webkit-text-stroke:0.37px currentColor;transform:scaleX(0.9732);'>Qian</span></div>
<span class="t" style='left:581.77px;top:345.80px;font:14.53px/18px "DejaVu Serif", "Liberation Serif", serif;color:#2197db;-webkit-text-stroke:0.2px currentColor;transform:scaleX(0.9200);'>a</span>
<span class="t" style='left:590.10px;top:351.00px;font:19.25px/24px "DejaVu Serif", "Liberation Serif", serif;color:#000;-webkit-text-stroke:0.37px currentColor;'>,</span>
<div><span class="t" style='left:603.00px;top:351.00px;font:19.25px/24px "DejaVu Serif", "Liberation Serif", serif;color:#000;-webkit-text-stroke:0.37px currentColor;transform:scaleX(0.9626);'>Yingru </span><span class="t" style='left:672.27px;top:351.00px;font:19.25px/24px "DejaVu Serif", "Liberation Serif", serif;color:#000;-webkit-text-stroke:0.37px currentColor;transform:scaleX(0.9165);'>He</span></div>
<span class="t" style='left:701.92px;top:345.80px;font:14.53px/18px "DejaVu Serif", "Liberation Serif", serif;color:#2197db;-webkit-text-stroke:0.2px currentColor;transform:scaleX(0.9200);'>a</span>
<span class="t" style='left:710.00px;top:351.00px;font:19.25px/24px "DejaVu Serif", "Liberation Serif", serif;color:#000;-webkit-text-stroke:0.37px currentColor;'>,</span>
<div><span class="t" style='left:723.00px;top:351.00px;font:19.25px/24px "DejaVu Serif", "Liberation Serif", serif;color:#000;-webkit-text-stroke:0.37px currentColor;transform:scaleX(1.0384);'>John </span><span class="t" style='left:775.69px;top:351.00px;font:19.25px/24px "DejaVu Serif", "Liberation Serif", serif;color:#000;-webkit-text-stroke:0.37px currentColor;transform:scaleX(1.1950);'>P. </span><span class="t" style='left:800.70px;top:351.00px;font:19.25px/24px "DejaVu Serif", "Liberation Serif", serif;color:#000;-webkit-text-stroke:0.37px currentColor;transform:scaleX(0.9499);'>Giesy</span></div>
<span class="t" style='left:856.00px;top:343.80px;font:14.53px/18px "DejaVu Serif", "Liberation Serif", serif;color:#2197db;-webkit-text-stroke:0.2px currentColor;transform:scaleX(0.8501);'>c<span style="color:#000;font-size:1.3em;-webkit-text-stroke:0.4px #000">,</span> d<span style="color:#000;font-size:1.3em;-webkit-text-stroke:0.4px #000">,</span> e</span>
<span class="t" style='left:891.70px;top:351.00px;font:19.25px/24px "DejaVu Serif", "Liberation Serif", serif;color:#000;-webkit-text-stroke:0.37px currentColor;'>,</span>
<div><span class="t" style='left:6.40px;top:377.00px;font:19.25px/24px "DejaVu Serif", "Liberation Serif", serif;color:#000;-webkit-text-stroke:0.37px currentColor;transform:scaleX(0.9667);'>Yunsong </span><span class="t" style='left:92.51px;top:377.00px;font:19.25px/24px "DejaVu Serif", "Liberation Serif", serif;color:#000;-webkit-text-stroke:0.37px currentColor;transform:scaleX(0.9401);'>Mu</span></div>
<span class="t" style='left:127.80px;top:369.80px;font:14.53px/18px "DejaVu Serif", "Liberation Serif", serif;color:#2197db;-webkit-text-stroke:0.2px currentColor;transform:scaleX(0.7301);'>a<span style="color:#000;font-size:1.3em;-webkit-text-stroke:0.4px #000">,</span></span>
<span class="t" style='left:142.10px;top:374.20px;font:12.30px/15px "DejaVu Serif", "Liberation Serif", serif;color:#3f9fe0;-webkit-text-stroke:0.1px currentColor;'><span style="letter-spacing:1.9px">*</span></span>
<span class="t" style='left:149.60px;top:377.00px;font:19.25px/24px "DejaVu Serif", "Liberation Serif", serif;color:#000;-webkit-text-stroke:0.37px currentColor;'>,</span>
<div><span class="t" style='left:162.30px;top:377.00px;font:19.25px/24px "DejaVu Serif", "Liberation Serif", serif;color:#000;-webkit-text-stroke:0.37px currentColor;transform:scaleX(0.9454);'>Mengxiao </span><span class="t" style='left:259.81px;top:377.00px;font:19.25px/24px "DejaVu Serif", "Liberation Serif", serif;color:#000;-webkit-text-stroke:0.37px currentColor;transform:scaleX(0.9776);'>Wang</span></div>
<span class="t" style='left:317.70px;top:369.80px;font:14.53px/18px "DejaVu Serif", "Liberation Serif", serif;color:#2197db;-webkit-text-stroke:0.2px currentColor;transform:scaleX(0.7710);'>a<span style="color:#000;font-size:1.3em;-webkit-text-stroke:0.4px #000">,</span></span>
<span class="t" style='left:331.90px;top:374.20px;font:12.30px/15px "DejaVu Serif", "Liberation Serif", serif;color:#3f9fe0;-webkit-text-stroke:0.1px currentColor;'><span style="letter-spacing:1.9px">**</span></span>
<span class="t" style='left:5.90px;top:415.40px;font:8.35px/10px "DejaVu Serif", "Liberation Serif", serif;color:#000;-webkit-text-stroke:0.15px currentColor;'>a</span>
<div><span class="t" style='left:13.90px;top:415.00px;font:italic 13.30px/17px "Liberation Serif", "DejaVu Serif", serif;color:#000;-webkit-text-stroke:0.3px currentColor;transform:scaleX(0.9738);'>School </span><span class="t" style='left:53.33px;top:415.00px;font:italic 13.30px/17px "Liberation Serif", "DejaVu Serif", serif;color:#000;-webkit-text-stroke:0.3px currentColor;transform:scaleX(1.0233);'>of </span><span class="t" style='left:68.08px;top:415.00px;font:italic 13.30px/17px "Liberation Serif", "DejaVu Serif", serif;color:#000;-webkit-text-stroke:0.3px currentColor;transform:scaleX(0.9872);'>Environment </span><span class="t" style='left:139.58px;top:415.00px;font:italic 13.30px/17px "Liberation Serif", "DejaVu Serif", serif;color:#000;-webkit-text-stroke:0.3px currentColor;transform:scaleX(0.8707);'>&amp; </span><span class="t" style='left:152.76px;top:415.00px;font:italic 13.30px/17px "Liberation Serif", "DejaVu Serif", serif;color:#000;-webkit-text-stroke:0.3px currentColor;transform:scaleX(0.9945);'>Natural </span><span class="t" style='left:198.09px;top:415.00px;font:italic 13.30px/17px "Liberation Serif", "DejaVu Serif", serif;color:#000;-webkit-text-stroke:0.3px currentColor;transform:scaleX(0.9724);'>Resources, </span><span class="t" style='left:258.16px;top:415.00px;font:italic 13.30px/17px "Liberation Serif", "DejaVu Serif", serif;color:#000;-webkit-text-stroke:0.3px currentColor;'>Renmin </span><span class="t" style='left:302.96px;top:415.00px;font:italic 13.30px/17px "Liberation Serif", "DejaVu Serif", serif;color:#000;-webkit-text-stroke:0.3px currentColor;transform:scaleX(0.9711);'>University </span><span class="t" style='left:360.92px;top:415.00px;font:italic 13.30px/17px "Liberation Serif", "DejaVu Serif", serif;color:#000;-webkit-text-stroke:0.3px currentColor;transform:scaleX(1.0233);'>of </span><span class="t" style='left:375.67px;top:415.00px;font:italic 13.30px/17px "Liberation Serif", "DejaVu Serif", serif;color:#000;-webkit-text-stroke:0.3px currentColor;transform:scaleX(0.9814);'>China, </span><span class="t" style='left:415.02px;top:415.00px;font:italic 13.30px/17px "Liberation Serif", "DejaVu Serif", serif;color:#000;-webkit-text-stroke:0.3px currentColor;transform:scaleX(0.9486);'>Beijing, </span><span class="t" style='left:458.78px;top:415.00px;font:italic 13.30px/17px "Liberation Serif", "DejaVu Serif", serif;color:#000;-webkit-text-stroke:0.3px currentColor;transform:scaleX(1.0702);'>100872, </span><span class="t" style='left:509.20px;top:415.00px;font:italic 13.30px/17px "Liberation Serif", "DejaVu Serif", serif;color:#000;-webkit-text-stroke:0.3px currentColor;transform:scaleX(0.9718);'>China</span></div>
<span class="t" style='left:5.90px;top:432.40px;font:8.35px/10px "DejaVu Serif", "Liberation Serif", serif;color:#000;-webkit-text-stroke:0.15px currentColor;'>b</span>
<div><span class="t" style='left:13.90px;top:432.00px;font:italic 13.30px/17px "Liberation Serif", "DejaVu Serif", serif;color:#000;-webkit-text-stroke:0.3px currentColor;transform:scaleX(0.9743);'>School </span><span class="t" style='left:53.34px;top:432.00px;font:italic 13.30px/17px "Liberation Serif", "DejaVu Serif", serif;color:#000;-webkit-text-stroke:0.3px currentColor;transform:scaleX(1.0237);'>of </span><span class="t" style='left:68.10px;top:432.00px;font:italic 13.30px/17px "Liberation Serif", "DejaVu Serif", serif;color:#000;-webkit-text-stroke:0.3px currentColor;transform:scaleX(0.9790);'>Statistics, </span><span class="t" style='left:122.54px;top:432.00px;font:italic 13.30px/17px "Liberation Serif", "DejaVu Serif", serif;color:#000;-webkit-text-stroke:0.3px currentColor;transform:scaleX(1.0005);'>Renmin </span><span class="t" style='left:167.36px;top:432.00px;font:italic 13.30px/17px "Liberation Serif", "DejaVu Serif", serif;color:#000;-webkit-text-stroke:0.3px currentColor;transform:scaleX(0.9715);'>University </span><span class="t" style='left:225.34px;top:432.00px;font:italic 13.30px/17px "Liberation Serif", "DejaVu Serif", serif;color:#000;-webkit-text-stroke:0.3px currentColor;transform:scaleX(1.0237);'>of </span><span class="t" style='left:240.10px;top:432.00px;font:italic 13.30px/17px "Liberation Serif", "DejaVu Serif", serif;color:#000;-webkit-text-stroke:0.3px currentColor;transform:scaleX(0.9818);'>China, </span><span class="t" style='left:279.47px;top:432.00px;font:italic 13.30px/17px "Liberation Serif", "DejaVu Serif", serif;color:#000;-webkit-text-stroke:0.3px currentColor;transform:scaleX(0.9490);'>Beijing, </span><span class="t" style='left:323.24px;top:432.00px;font:italic 13.30px/17px "Liberation Serif", "DejaVu Serif", serif;color:#000;-webkit-text-stroke:0.3px currentColor;transform:scaleX(1.0706);'>100872, </span><span class="t" style='left:373.69px;top:432.00px;font:italic 13.30px/17px "Liberation Serif", "DejaVu Serif", serif;color:#000;-webkit-text-stroke:0.3px currentColor;transform:scaleX(0.9722);'>China</span></div>
<span class="t" style='left:5.90px;top:449.40px;font:8.35px/10px "DejaVu Serif", "Liberation Serif", serif;color:#000;-webkit-text-stroke:0.15px currentColor;'>c</span>
<div><span class="t" style='left:13.90px;top:449.00px;font:italic 13.30px/17px "Liberation Serif", "DejaVu Serif", serif;color:#000;-webkit-text-stroke:0.3px currentColor;transform:scaleX(0.9707);'>Department </span><span class="t" style='left:79.73px;top:449.00px;font:italic 13.30px/17px "Liberation Serif", "DejaVu Serif", serif;color:#000;-webkit-text-stroke:0.3px currentColor;transform:scaleX(1.0209);'>of </span><span class="t" style='left:94.45px;top:449.00px;font:italic 13.30px/17px "Liberation Serif", "DejaVu Serif", serif;color:#000;-webkit-text-stroke:0.3px currentColor;transform:scaleX(1.0073);'>Veterinary </span><span class="t" style='left:154.40px;top:449.00px;font:italic 13.30px/17px "Liberation Serif", "DejaVu Serif", serif;color:#000;-webkit-text-stroke:0.3px currentColor;transform:scaleX(0.9695);'>Biomedical </span><span class="t" style='left:217.28px;top:449.00px;font:italic 13.30px/17px "Liberation Serif", "DejaVu Serif", serif;color:#000;-webkit-text-stroke:0.3px currentColor;transform:scaleX(0.9546);'>Sciences </span><span class="t" style='left:265.14px;top:449.00px;font:italic 13.30px/17px "Liberation Serif", "DejaVu Serif", serif;color:#000;-webkit-text-stroke:0.3px currentColor;transform:scaleX(1.0082);'>and </span><span class="t" style='left:289.42px;top:449.00px;font:italic 13.30px/17px "Liberation Serif", "DejaVu Serif", serif;color:#000;-webkit-text-stroke:0.3px currentColor;transform:scaleX(0.9997);'>Toxicology </span><span class="t" style='left:351.44px;top:449.00px;font:italic 13.30px/17px "Liberation Serif", "DejaVu Serif", serif;color:#000;-webkit-text-stroke:0.3px currentColor;transform:scaleX(0.9746);'>Centre, </span><span class="t" style='left:393.64px;top:449.00px;font:italic 13.30px/17px "Liberation Serif", "DejaVu Serif", serif;color:#000;-webkit-text-stroke:0.3px currentColor;transform:scaleX(0.9688);'>University </span><span class="t" style='left:451.46px;top:449.00px;font:italic 13.30px/17px "Liberation Serif", "DejaVu Serif", serif;color:#000;-webkit-text-stroke:0.3px currentColor;transform:scaleX(1.0209);'>of </span><span class="t" style='left:466.18px;top:449.00px;font:italic 13.30px/17px "Liberation Serif", "DejaVu Serif", serif;color:#000;-webkit-text-stroke:0.3px currentColor;transform:scaleX(1.0002);'>Saskatchewan, </span><span class="t" style='left:549.03px;top:449.00px;font:italic 13.30px/17px "Liberation Serif", "DejaVu Serif", serif;color:#000;-webkit-text-stroke:0.3px currentColor;transform:scaleX(1.0038);'>Saskatoon, </span><span class="t" style='left:611.41px;top:449.00px;font:italic 13.30px/17px "Liberation Serif", "DejaVu Serif", serif;color:#000;-webkit-text-stroke:0.3px currentColor;transform:scaleX(1.0002);'>Saskatchewan, </span><span class="t" style='left:694.25px;top:449.00px;font:italic 13.30px/17px "Liberation Serif", "DejaVu Serif", serif;color:#000;-webkit-text-stroke:0.3px currentColor;transform:scaleX(0.9839);'>Canada</span></div>
<span class="t" style='left:5.90px;top:467.40px;font:8.35px/10px "DejaVu Serif", "Liberation Serif", serif;color:#000;-webkit-text-stroke:0.15px currentColor;'>d</span>
<div><span class="t" style='left:13.90px;top:467.00px;font:italic 13.30px/17px "Liberation Serif", "DejaVu Serif", serif;color:#000;-webkit-text-stroke:0.3px currentColor;transform:scaleX(0.9716);'>Department </span><span class="t" style='left:79.79px;top:467.00px;font:italic 13.30px/17px "Liberation Serif", "DejaVu Serif", serif;color:#000;-webkit-text-stroke:0.3px currentColor;transform:scaleX(1.0219);'>of </span><span class="t" style='left:94.53px;top:467.00px;font:italic 13.30px/17px "Liberation Serif", "DejaVu Serif", serif;color:#000;-webkit-text-stroke:0.3px currentColor;transform:scaleX(0.9575);'>Integrative </span><span class="t" style='left:154.56px;top:467.00px;font:italic 13.30px/17px "Liberation Serif", "DejaVu Serif", serif;color:#000;-webkit-text-stroke:0.3px currentColor;transform:scaleX(0.9532);'>Biology </span><span class="t" style='left:198.15px;top:467.00px;font:italic 13.30px/17px "Liberation Serif", "DejaVu Serif", serif;color:#000;-webkit-text-stroke:0.3px currentColor;transform:scaleX(1.0092);'>and </span><span class="t" style='left:222.45px;top:467.00px;font:italic 13.30px/17px "Liberation Serif", "DejaVu Serif", serif;color:#000;-webkit-text-stroke:0.3px currentColor;transform:scaleX(0.9530);'>Center </span><span class="t" style='left:261.11px;top:467.00px;font:italic 13.30px/17px "Liberation Serif", "DejaVu Serif", serif;color:#000;-webkit-text-stroke:0.3px currentColor;transform:scaleX(0.9881);'>for </span><span class="t" style='left:280.63px;top:467.00px;font:italic 13.30px/17px "Liberation Serif", "DejaVu Serif", serif;color:#000;-webkit-text-stroke:0.3px currentColor;transform:scaleX(0.9575);'>Integrative </span><span class="t" style='left:340.66px;top:467.00px;font:italic 13.30px/17px "Liberation Serif", "DejaVu Serif", serif;color:#000;-webkit-text-stroke:0.3px currentColor;transform:scaleX(1.0171);'>Toxicology, </span><span class="t" style='left:406.31px;top:467.00px;font:italic 13.30px/17px "Liberation Serif", "DejaVu Serif", serif;color:#000;-webkit-text-stroke:0.3px currentColor;transform:scaleX(0.9631);'>Michigan </span><span class="t" style='left:459.56px;top:467.00px;font:italic 13.30px/17px "Liberation Serif", "DejaVu Serif", serif;color:#000;-webkit-text-stroke:0.3px currentColor;transform:scaleX(0.9968);'>State </span><span class="t" style='left:490.23px;top:467.00px;font:italic 13.30px/17px "Liberation Serif", "DejaVu Serif", serif;color:#000;-webkit-text-stroke:0.3px currentColor;transform:scaleX(0.9880);'>University, </span><span class="t" style='left:551.68px;top:467.00px;font:italic 13.30px/17px "Liberation Serif", "DejaVu Serif", serif;color:#000;-webkit-text-stroke:0.3px currentColor;transform:scaleX(0.9449);'>East </span><span class="t" style='left:578.19px;top:467.00px;font:italic 13.30px/17px "Liberation Serif", "DejaVu Serif", serif;color:#000;-webkit-text-stroke:0.3px currentColor;transform:scaleX(0.9552);'>Lansing, </span><span class="t" style='left:626.47px;top:467.00px;font:italic 13.30px/17px "Liberation Serif", "DejaVu Serif", serif;color:#000;-webkit-text-stroke:0.3px currentColor;transform:scaleX(0.9865);'>MI, </span><span class="t" style='left:649.22px;top:467.00px;font:italic 13.30px/17px "Liberation Serif", "DejaVu Serif", serif;color:#000;-webkit-text-stroke:0.3px currentColor;transform:scaleX(0.9960);'>USA</span></div>
<span class="t" style='left:5.90px;top:484.40px;font:8.35px/10px "DejaVu Serif", "Liberation Serif", serif;color:#000;-webkit-text-stroke:0.15px currentColor;'>e</span>
<div><span class="t" style='left:13.90px;top:484.00px;font:italic 13.30px/17px "Liberation Serif", "DejaVu Serif", serif;color:#000;-webkit-text-stroke:0.3px currentColor;transform:scaleX(0.9702);'>Department </span><span class="t" style='left:79.70px;top:484.00px;font:italic 13.30px/17px "Liberation Serif", "DejaVu Serif", serif;color:#000;-webkit-text-stroke:0.3px currentColor;transform:scaleX(1.0204);'>of </span><span class="t" style='left:94.41px;top:484.00px;font:italic 13.30px/17px "Liberation Serif", "DejaVu Serif", serif;color:#000;-webkit-text-stroke:0.3px currentColor;transform:scaleX(0.9825);'>Environmental </span><span class="t" style='left:175.74px;top:484.00px;font:italic 13.30px/17px "Liberation Serif", "DejaVu Serif", serif;color:#000;-webkit-text-stroke:0.3px currentColor;transform:scaleX(0.9679);'>Science, </span><span class="t" style='left:222.43px;top:484.00px;font:italic 13.30px/17px "Liberation Serif", "DejaVu Serif", serif;color:#000;-webkit-text-stroke:0.3px currentColor;transform:scaleX(0.9758);'>Baylor </span><span class="t" style='left:261.91px;top:484.00px;font:italic 13.30px/17px "Liberation Serif", "DejaVu Serif", serif;color:#000;-webkit-text-stroke:0.3px currentColor;transform:scaleX(0.9866);'>University, </span><span class="t" style='left:323.28px;top:484.00px;font:italic 13.30px/17px "Liberation Serif", "DejaVu Serif", serif;color:#000;-webkit-text-stroke:0.3px currentColor;transform:scaleX(0.9634);'>One </span><span class="t" style='left:348.78px;top:484.00px;font:italic 13.30px/17px "Liberation Serif", "DejaVu Serif", serif;color:#000;-webkit-text-stroke:0.3px currentColor;transform:scaleX(0.9548);'>Bear </span><span class="t" style='left:377.63px;top:484.00px;font:italic 13.30px/17px "Liberation Serif", "DejaVu Serif", serif;color:#000;-webkit-text-stroke:0.3px currentColor;transform:scaleX(0.9354);'>Place </span><span class="t" style='left:410.11px;top:484.00px;font:italic 13.30px/17px "Liberation Serif", "DejaVu Serif", serif;color:#000;-webkit-text-stroke:0.3px currentColor;transform:scaleX(1.1224);'>#97266, </span><span class="t" style='left:462.78px;top:484.00px;font:italic 13.30px/17px "Liberation Serif", "DejaVu Serif", serif;color:#000;-webkit-text-stroke:0.3px currentColor;transform:scaleX(1.0506);'>Waco, </span><span class="t" style='left:500.97px;top:484.00px;font:italic 13.30px/17px "Liberation Serif", "DejaVu Serif", serif;color:#000;-webkit-text-stroke:0.3px currentColor;transform:scaleX(1.0142);'>TX, </span><span class="t" style='left:524.24px;top:484.00px;font:italic 13.30px/17px "Liberation Serif", "DejaVu Serif", serif;color:#000;-webkit-text-stroke:0.3px currentColor;transform:scaleX(1.0573);'>76798-7266, </span><span class="t" style='left:599.86px;top:484.00px;font:italic 13.30px/17px "Liberation Serif", "DejaVu Serif", serif;color:#000;-webkit-text-stroke:0.3px currentColor;transform:scaleX(0.9945);'>USA</span></div>
</body></html>
